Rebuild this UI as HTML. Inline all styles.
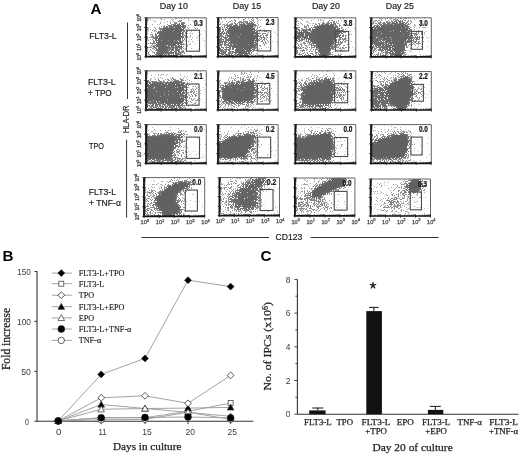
<!DOCTYPE html><html><head><meta charset="utf-8"><style>html,body{margin:0;padding:0;background:#fff;width:520px;height:454px;overflow:hidden}svg{display:block;will-change:transform}</style></head><body>
<svg width="520" height="454" viewBox="0 0 520 454">
<rect width="520" height="454" fill="#fff"/>
<defs>
<clipPath id="c00"><rect x="146.0" y="17.8" width="60.3" height="38.8"/></clipPath>
<filter id="f00" filterUnits="userSpaceOnUse" x="140.0" y="11.8" width="72.3" height="50.8" color-interpolation-filters="sRGB"><feGaussianBlur in="SourceAlpha" stdDeviation="2.0" result="d0"/><feComponentTransfer in="d0" result="d"><feFuncA type="table" tableValues="0 0.1 0.2 0.3 0.41 0.54 0.7 0.85 0.95 1 1"/></feComponentTransfer><feTurbulence type="fractalNoise" baseFrequency="1.3" numOctaves="1" seed="3" result="n"/><feComponentTransfer in="n" result="u"><feFuncR type="table" tableValues="0.000 0.000 0.000 0.000 0.000 0.000 0.000 0.001 0.002 0.005 0.009 0.017 0.030 0.049 0.079 0.119 0.173 0.240 0.319 0.407 0.500 0.593 0.681 0.760 0.827 0.881 0.921 0.951 0.970 0.983 0.991 0.995 0.998 0.999 1.000 1.000 1.000 1.000 1.000 1.000 1.000"/></feComponentTransfer><feColorMatrix in="u" type="matrix" values="0 0 0 0 0 0 0 0 0 0 0 0 0 0 0 1 0 0 0 0" result="ua"/><feComposite in="d" in2="ua" operator="arithmetic" k1="0" k2="1" k3="-1" k4="0.55" result="df"/><feComponentTransfer in="df" result="th"><feFuncA type="linear" slope="20" intercept="-10"/></feComponentTransfer><feComponentTransfer in="d" result="dd"><feFuncA type="linear" slope="0.44999999999999996" intercept="0.55"/></feComponentTransfer><feComposite in="th" in2="dd" operator="arithmetic" k1="1" k2="0" k3="0" k4="0" result="th2"/><feFlood flood-color="#616161"/><feComposite in2="th2" operator="in" result="col"/><feGaussianBlur in="col" stdDeviation="0.45"/></filter>
<clipPath id="c01"><rect x="218.0" y="17.6" width="60.1" height="39.0"/></clipPath>
<filter id="f01" filterUnits="userSpaceOnUse" x="212.0" y="11.6" width="72.1" height="51.0" color-interpolation-filters="sRGB"><feGaussianBlur in="SourceAlpha" stdDeviation="2.0" result="d0"/><feComponentTransfer in="d0" result="d"><feFuncA type="table" tableValues="0 0.1 0.2 0.3 0.41 0.54 0.7 0.85 0.95 1 1"/></feComponentTransfer><feTurbulence type="fractalNoise" baseFrequency="1.3" numOctaves="1" seed="4" result="n"/><feComponentTransfer in="n" result="u"><feFuncR type="table" tableValues="0.000 0.000 0.000 0.000 0.000 0.000 0.000 0.001 0.002 0.005 0.009 0.017 0.030 0.049 0.079 0.119 0.173 0.240 0.319 0.407 0.500 0.593 0.681 0.760 0.827 0.881 0.921 0.951 0.970 0.983 0.991 0.995 0.998 0.999 1.000 1.000 1.000 1.000 1.000 1.000 1.000"/></feComponentTransfer><feColorMatrix in="u" type="matrix" values="0 0 0 0 0 0 0 0 0 0 0 0 0 0 0 1 0 0 0 0" result="ua"/><feComposite in="d" in2="ua" operator="arithmetic" k1="0" k2="1" k3="-1" k4="0.55" result="df"/><feComponentTransfer in="df" result="th"><feFuncA type="linear" slope="20" intercept="-10"/></feComponentTransfer><feComponentTransfer in="d" result="dd"><feFuncA type="linear" slope="0.44999999999999996" intercept="0.55"/></feComponentTransfer><feComposite in="th" in2="dd" operator="arithmetic" k1="1" k2="0" k3="0" k4="0" result="th2"/><feFlood flood-color="#616161"/><feComposite in2="th2" operator="in" result="col"/><feGaussianBlur in="col" stdDeviation="0.45"/></filter>
<clipPath id="c02"><rect x="295.3" y="17.8" width="60.5" height="39.0"/></clipPath>
<filter id="f02" filterUnits="userSpaceOnUse" x="289.3" y="11.8" width="72.5" height="51.0" color-interpolation-filters="sRGB"><feGaussianBlur in="SourceAlpha" stdDeviation="2.0" result="d0"/><feComponentTransfer in="d0" result="d"><feFuncA type="table" tableValues="0 0.1 0.2 0.3 0.41 0.54 0.7 0.85 0.95 1 1"/></feComponentTransfer><feTurbulence type="fractalNoise" baseFrequency="1.3" numOctaves="1" seed="5" result="n"/><feComponentTransfer in="n" result="u"><feFuncR type="table" tableValues="0.000 0.000 0.000 0.000 0.000 0.000 0.000 0.001 0.002 0.005 0.009 0.017 0.030 0.049 0.079 0.119 0.173 0.240 0.319 0.407 0.500 0.593 0.681 0.760 0.827 0.881 0.921 0.951 0.970 0.983 0.991 0.995 0.998 0.999 1.000 1.000 1.000 1.000 1.000 1.000 1.000"/></feComponentTransfer><feColorMatrix in="u" type="matrix" values="0 0 0 0 0 0 0 0 0 0 0 0 0 0 0 1 0 0 0 0" result="ua"/><feComposite in="d" in2="ua" operator="arithmetic" k1="0" k2="1" k3="-1" k4="0.55" result="df"/><feComponentTransfer in="df" result="th"><feFuncA type="linear" slope="20" intercept="-10"/></feComponentTransfer><feComponentTransfer in="d" result="dd"><feFuncA type="linear" slope="0.44999999999999996" intercept="0.55"/></feComponentTransfer><feComposite in="th" in2="dd" operator="arithmetic" k1="1" k2="0" k3="0" k4="0" result="th2"/><feFlood flood-color="#616161"/><feComposite in2="th2" operator="in" result="col"/><feGaussianBlur in="col" stdDeviation="0.45"/></filter>
<clipPath id="c03"><rect x="371.0" y="17.8" width="60.3" height="39.0"/></clipPath>
<filter id="f03" filterUnits="userSpaceOnUse" x="365.0" y="11.8" width="72.3" height="51.0" color-interpolation-filters="sRGB"><feGaussianBlur in="SourceAlpha" stdDeviation="2.0" result="d0"/><feComponentTransfer in="d0" result="d"><feFuncA type="table" tableValues="0 0.1 0.2 0.3 0.41 0.54 0.7 0.85 0.95 1 1"/></feComponentTransfer><feTurbulence type="fractalNoise" baseFrequency="1.3" numOctaves="1" seed="6" result="n"/><feComponentTransfer in="n" result="u"><feFuncR type="table" tableValues="0.000 0.000 0.000 0.000 0.000 0.000 0.000 0.001 0.002 0.005 0.009 0.017 0.030 0.049 0.079 0.119 0.173 0.240 0.319 0.407 0.500 0.593 0.681 0.760 0.827 0.881 0.921 0.951 0.970 0.983 0.991 0.995 0.998 0.999 1.000 1.000 1.000 1.000 1.000 1.000 1.000"/></feComponentTransfer><feColorMatrix in="u" type="matrix" values="0 0 0 0 0 0 0 0 0 0 0 0 0 0 0 1 0 0 0 0" result="ua"/><feComposite in="d" in2="ua" operator="arithmetic" k1="0" k2="1" k3="-1" k4="0.55" result="df"/><feComponentTransfer in="df" result="th"><feFuncA type="linear" slope="20" intercept="-10"/></feComponentTransfer><feComponentTransfer in="d" result="dd"><feFuncA type="linear" slope="0.44999999999999996" intercept="0.55"/></feComponentTransfer><feComposite in="th" in2="dd" operator="arithmetic" k1="1" k2="0" k3="0" k4="0" result="th2"/><feFlood flood-color="#616161"/><feComposite in2="th2" operator="in" result="col"/><feGaussianBlur in="col" stdDeviation="0.45"/></filter>
</defs>
<clipPath id="c10"><rect x="146.0" y="70.8" width="60.3" height="39.2"/></clipPath>
<filter id="f10" filterUnits="userSpaceOnUse" x="140.0" y="64.8" width="72.3" height="51.2" color-interpolation-filters="sRGB"><feGaussianBlur in="SourceAlpha" stdDeviation="2.0" result="d0"/><feComponentTransfer in="d0" result="d"><feFuncA type="table" tableValues="0 0.1 0.2 0.3 0.41 0.54 0.7 0.85 0.95 1 1"/></feComponentTransfer><feTurbulence type="fractalNoise" baseFrequency="1.3" numOctaves="1" seed="7" result="n"/><feComponentTransfer in="n" result="u"><feFuncR type="table" tableValues="0.000 0.000 0.000 0.000 0.000 0.000 0.000 0.001 0.002 0.005 0.009 0.017 0.030 0.049 0.079 0.119 0.173 0.240 0.319 0.407 0.500 0.593 0.681 0.760 0.827 0.881 0.921 0.951 0.970 0.983 0.991 0.995 0.998 0.999 1.000 1.000 1.000 1.000 1.000 1.000 1.000"/></feComponentTransfer><feColorMatrix in="u" type="matrix" values="0 0 0 0 0 0 0 0 0 0 0 0 0 0 0 1 0 0 0 0" result="ua"/><feComposite in="d" in2="ua" operator="arithmetic" k1="0" k2="1" k3="-1" k4="0.55" result="df"/><feComponentTransfer in="df" result="th"><feFuncA type="linear" slope="20" intercept="-10"/></feComponentTransfer><feComponentTransfer in="d" result="dd"><feFuncA type="linear" slope="0.44999999999999996" intercept="0.55"/></feComponentTransfer><feComposite in="th" in2="dd" operator="arithmetic" k1="1" k2="0" k3="0" k4="0" result="th2"/><feFlood flood-color="#616161"/><feComposite in2="th2" operator="in" result="col"/><feGaussianBlur in="col" stdDeviation="0.45"/></filter>
<clipPath id="c11"><rect x="218.0" y="71.0" width="60.1" height="39.0"/></clipPath>
<filter id="f11" filterUnits="userSpaceOnUse" x="212.0" y="65.0" width="72.1" height="51.0" color-interpolation-filters="sRGB"><feGaussianBlur in="SourceAlpha" stdDeviation="2.0" result="d0"/><feComponentTransfer in="d0" result="d"><feFuncA type="table" tableValues="0 0.1 0.2 0.3 0.41 0.54 0.7 0.85 0.95 1 1"/></feComponentTransfer><feTurbulence type="fractalNoise" baseFrequency="1.3" numOctaves="1" seed="8" result="n"/><feComponentTransfer in="n" result="u"><feFuncR type="table" tableValues="0.000 0.000 0.000 0.000 0.000 0.000 0.000 0.001 0.002 0.005 0.009 0.017 0.030 0.049 0.079 0.119 0.173 0.240 0.319 0.407 0.500 0.593 0.681 0.760 0.827 0.881 0.921 0.951 0.970 0.983 0.991 0.995 0.998 0.999 1.000 1.000 1.000 1.000 1.000 1.000 1.000"/></feComponentTransfer><feColorMatrix in="u" type="matrix" values="0 0 0 0 0 0 0 0 0 0 0 0 0 0 0 1 0 0 0 0" result="ua"/><feComposite in="d" in2="ua" operator="arithmetic" k1="0" k2="1" k3="-1" k4="0.55" result="df"/><feComponentTransfer in="df" result="th"><feFuncA type="linear" slope="20" intercept="-10"/></feComponentTransfer><feComponentTransfer in="d" result="dd"><feFuncA type="linear" slope="0.44999999999999996" intercept="0.55"/></feComponentTransfer><feComposite in="th" in2="dd" operator="arithmetic" k1="1" k2="0" k3="0" k4="0" result="th2"/><feFlood flood-color="#616161"/><feComposite in2="th2" operator="in" result="col"/><feGaussianBlur in="col" stdDeviation="0.45"/></filter>
<clipPath id="c12"><rect x="295.3" y="70.8" width="60.5" height="39.2"/></clipPath>
<filter id="f12" filterUnits="userSpaceOnUse" x="289.3" y="64.8" width="72.5" height="51.2" color-interpolation-filters="sRGB"><feGaussianBlur in="SourceAlpha" stdDeviation="2.0" result="d0"/><feComponentTransfer in="d0" result="d"><feFuncA type="table" tableValues="0 0.1 0.2 0.3 0.41 0.54 0.7 0.85 0.95 1 1"/></feComponentTransfer><feTurbulence type="fractalNoise" baseFrequency="1.3" numOctaves="1" seed="9" result="n"/><feComponentTransfer in="n" result="u"><feFuncR type="table" tableValues="0.000 0.000 0.000 0.000 0.000 0.000 0.000 0.001 0.002 0.005 0.009 0.017 0.030 0.049 0.079 0.119 0.173 0.240 0.319 0.407 0.500 0.593 0.681 0.760 0.827 0.881 0.921 0.951 0.970 0.983 0.991 0.995 0.998 0.999 1.000 1.000 1.000 1.000 1.000 1.000 1.000"/></feComponentTransfer><feColorMatrix in="u" type="matrix" values="0 0 0 0 0 0 0 0 0 0 0 0 0 0 0 1 0 0 0 0" result="ua"/><feComposite in="d" in2="ua" operator="arithmetic" k1="0" k2="1" k3="-1" k4="0.55" result="df"/><feComponentTransfer in="df" result="th"><feFuncA type="linear" slope="20" intercept="-10"/></feComponentTransfer><feComponentTransfer in="d" result="dd"><feFuncA type="linear" slope="0.44999999999999996" intercept="0.55"/></feComponentTransfer><feComposite in="th" in2="dd" operator="arithmetic" k1="1" k2="0" k3="0" k4="0" result="th2"/><feFlood flood-color="#616161"/><feComposite in2="th2" operator="in" result="col"/><feGaussianBlur in="col" stdDeviation="0.45"/></filter>
<clipPath id="c13"><rect x="371.5" y="71.5" width="59.8" height="38.5"/></clipPath>
<filter id="f13" filterUnits="userSpaceOnUse" x="365.5" y="65.5" width="71.8" height="50.5" color-interpolation-filters="sRGB"><feGaussianBlur in="SourceAlpha" stdDeviation="2.0" result="d0"/><feComponentTransfer in="d0" result="d"><feFuncA type="table" tableValues="0 0.1 0.2 0.3 0.41 0.54 0.7 0.85 0.95 1 1"/></feComponentTransfer><feTurbulence type="fractalNoise" baseFrequency="1.3" numOctaves="1" seed="10" result="n"/><feComponentTransfer in="n" result="u"><feFuncR type="table" tableValues="0.000 0.000 0.000 0.000 0.000 0.000 0.000 0.001 0.002 0.005 0.009 0.017 0.030 0.049 0.079 0.119 0.173 0.240 0.319 0.407 0.500 0.593 0.681 0.760 0.827 0.881 0.921 0.951 0.970 0.983 0.991 0.995 0.998 0.999 1.000 1.000 1.000 1.000 1.000 1.000 1.000"/></feComponentTransfer><feColorMatrix in="u" type="matrix" values="0 0 0 0 0 0 0 0 0 0 0 0 0 0 0 1 0 0 0 0" result="ua"/><feComposite in="d" in2="ua" operator="arithmetic" k1="0" k2="1" k3="-1" k4="0.55" result="df"/><feComponentTransfer in="df" result="th"><feFuncA type="linear" slope="20" intercept="-10"/></feComponentTransfer><feComponentTransfer in="d" result="dd"><feFuncA type="linear" slope="0.44999999999999996" intercept="0.55"/></feComponentTransfer><feComposite in="th" in2="dd" operator="arithmetic" k1="1" k2="0" k3="0" k4="0" result="th2"/><feFlood flood-color="#616161"/><feComposite in2="th2" operator="in" result="col"/><feGaussianBlur in="col" stdDeviation="0.45"/></filter>
</defs>
<clipPath id="c20"><rect x="146.0" y="124.6" width="60.3" height="38.7"/></clipPath>
<filter id="f20" filterUnits="userSpaceOnUse" x="140.0" y="118.6" width="72.3" height="50.7" color-interpolation-filters="sRGB"><feGaussianBlur in="SourceAlpha" stdDeviation="2.0" result="d0"/><feComponentTransfer in="d0" result="d"><feFuncA type="table" tableValues="0 0.1 0.2 0.3 0.41 0.54 0.7 0.85 0.95 1 1"/></feComponentTransfer><feTurbulence type="fractalNoise" baseFrequency="1.3" numOctaves="1" seed="11" result="n"/><feComponentTransfer in="n" result="u"><feFuncR type="table" tableValues="0.000 0.000 0.000 0.000 0.000 0.000 0.000 0.001 0.002 0.005 0.009 0.017 0.030 0.049 0.079 0.119 0.173 0.240 0.319 0.407 0.500 0.593 0.681 0.760 0.827 0.881 0.921 0.951 0.970 0.983 0.991 0.995 0.998 0.999 1.000 1.000 1.000 1.000 1.000 1.000 1.000"/></feComponentTransfer><feColorMatrix in="u" type="matrix" values="0 0 0 0 0 0 0 0 0 0 0 0 0 0 0 1 0 0 0 0" result="ua"/><feComposite in="d" in2="ua" operator="arithmetic" k1="0" k2="1" k3="-1" k4="0.55" result="df"/><feComponentTransfer in="df" result="th"><feFuncA type="linear" slope="20" intercept="-10"/></feComponentTransfer><feComponentTransfer in="d" result="dd"><feFuncA type="linear" slope="0.44999999999999996" intercept="0.55"/></feComponentTransfer><feComposite in="th" in2="dd" operator="arithmetic" k1="1" k2="0" k3="0" k4="0" result="th2"/><feFlood flood-color="#616161"/><feComposite in2="th2" operator="in" result="col"/><feGaussianBlur in="col" stdDeviation="0.45"/></filter>
<clipPath id="c21"><rect x="218.0" y="124.6" width="60.1" height="38.7"/></clipPath>
<filter id="f21" filterUnits="userSpaceOnUse" x="212.0" y="118.6" width="72.1" height="50.7" color-interpolation-filters="sRGB"><feGaussianBlur in="SourceAlpha" stdDeviation="2.0" result="d0"/><feComponentTransfer in="d0" result="d"><feFuncA type="table" tableValues="0 0.1 0.2 0.3 0.41 0.54 0.7 0.85 0.95 1 1"/></feComponentTransfer><feTurbulence type="fractalNoise" baseFrequency="1.3" numOctaves="1" seed="12" result="n"/><feComponentTransfer in="n" result="u"><feFuncR type="table" tableValues="0.000 0.000 0.000 0.000 0.000 0.000 0.000 0.001 0.002 0.005 0.009 0.017 0.030 0.049 0.079 0.119 0.173 0.240 0.319 0.407 0.500 0.593 0.681 0.760 0.827 0.881 0.921 0.951 0.970 0.983 0.991 0.995 0.998 0.999 1.000 1.000 1.000 1.000 1.000 1.000 1.000"/></feComponentTransfer><feColorMatrix in="u" type="matrix" values="0 0 0 0 0 0 0 0 0 0 0 0 0 0 0 1 0 0 0 0" result="ua"/><feComposite in="d" in2="ua" operator="arithmetic" k1="0" k2="1" k3="-1" k4="0.55" result="df"/><feComponentTransfer in="df" result="th"><feFuncA type="linear" slope="20" intercept="-10"/></feComponentTransfer><feComponentTransfer in="d" result="dd"><feFuncA type="linear" slope="0.44999999999999996" intercept="0.55"/></feComponentTransfer><feComposite in="th" in2="dd" operator="arithmetic" k1="1" k2="0" k3="0" k4="0" result="th2"/><feFlood flood-color="#616161"/><feComposite in2="th2" operator="in" result="col"/><feGaussianBlur in="col" stdDeviation="0.45"/></filter>
<clipPath id="c22"><rect x="295.3" y="124.6" width="60.5" height="38.7"/></clipPath>
<filter id="f22" filterUnits="userSpaceOnUse" x="289.3" y="118.6" width="72.5" height="50.7" color-interpolation-filters="sRGB"><feGaussianBlur in="SourceAlpha" stdDeviation="2.0" result="d0"/><feComponentTransfer in="d0" result="d"><feFuncA type="table" tableValues="0 0.1 0.2 0.3 0.41 0.54 0.7 0.85 0.95 1 1"/></feComponentTransfer><feTurbulence type="fractalNoise" baseFrequency="1.3" numOctaves="1" seed="13" result="n"/><feComponentTransfer in="n" result="u"><feFuncR type="table" tableValues="0.000 0.000 0.000 0.000 0.000 0.000 0.000 0.001 0.002 0.005 0.009 0.017 0.030 0.049 0.079 0.119 0.173 0.240 0.319 0.407 0.500 0.593 0.681 0.760 0.827 0.881 0.921 0.951 0.970 0.983 0.991 0.995 0.998 0.999 1.000 1.000 1.000 1.000 1.000 1.000 1.000"/></feComponentTransfer><feColorMatrix in="u" type="matrix" values="0 0 0 0 0 0 0 0 0 0 0 0 0 0 0 1 0 0 0 0" result="ua"/><feComposite in="d" in2="ua" operator="arithmetic" k1="0" k2="1" k3="-1" k4="0.55" result="df"/><feComponentTransfer in="df" result="th"><feFuncA type="linear" slope="20" intercept="-10"/></feComponentTransfer><feComponentTransfer in="d" result="dd"><feFuncA type="linear" slope="0.44999999999999996" intercept="0.55"/></feComponentTransfer><feComposite in="th" in2="dd" operator="arithmetic" k1="1" k2="0" k3="0" k4="0" result="th2"/><feFlood flood-color="#616161"/><feComposite in2="th2" operator="in" result="col"/><feGaussianBlur in="col" stdDeviation="0.45"/></filter>
<clipPath id="c23"><rect x="371.0" y="124.6" width="60.3" height="38.7"/></clipPath>
<filter id="f23" filterUnits="userSpaceOnUse" x="365.0" y="118.6" width="72.3" height="50.7" color-interpolation-filters="sRGB"><feGaussianBlur in="SourceAlpha" stdDeviation="2.0" result="d0"/><feComponentTransfer in="d0" result="d"><feFuncA type="table" tableValues="0 0.1 0.2 0.3 0.41 0.54 0.7 0.85 0.95 1 1"/></feComponentTransfer><feTurbulence type="fractalNoise" baseFrequency="1.3" numOctaves="1" seed="14" result="n"/><feComponentTransfer in="n" result="u"><feFuncR type="table" tableValues="0.000 0.000 0.000 0.000 0.000 0.000 0.000 0.001 0.002 0.005 0.009 0.017 0.030 0.049 0.079 0.119 0.173 0.240 0.319 0.407 0.500 0.593 0.681 0.760 0.827 0.881 0.921 0.951 0.970 0.983 0.991 0.995 0.998 0.999 1.000 1.000 1.000 1.000 1.000 1.000 1.000"/></feComponentTransfer><feColorMatrix in="u" type="matrix" values="0 0 0 0 0 0 0 0 0 0 0 0 0 0 0 1 0 0 0 0" result="ua"/><feComposite in="d" in2="ua" operator="arithmetic" k1="0" k2="1" k3="-1" k4="0.55" result="df"/><feComponentTransfer in="df" result="th"><feFuncA type="linear" slope="20" intercept="-10"/></feComponentTransfer><feComponentTransfer in="d" result="dd"><feFuncA type="linear" slope="0.44999999999999996" intercept="0.55"/></feComponentTransfer><feComposite in="th" in2="dd" operator="arithmetic" k1="1" k2="0" k3="0" k4="0" result="th2"/><feFlood flood-color="#616161"/><feComposite in2="th2" operator="in" result="col"/><feGaussianBlur in="col" stdDeviation="0.45"/></filter>
</defs>
<clipPath id="c30"><rect x="144.0" y="177.6" width="60.7" height="38.8"/></clipPath>
<filter id="f30" filterUnits="userSpaceOnUse" x="138.0" y="171.6" width="72.7" height="50.8" color-interpolation-filters="sRGB"><feGaussianBlur in="SourceAlpha" stdDeviation="2.0" result="d0"/><feComponentTransfer in="d0" result="d"><feFuncA type="table" tableValues="0 0.1 0.2 0.3 0.41 0.54 0.7 0.85 0.95 1 1"/></feComponentTransfer><feTurbulence type="fractalNoise" baseFrequency="1.3" numOctaves="1" seed="15" result="n"/><feComponentTransfer in="n" result="u"><feFuncR type="table" tableValues="0.000 0.000 0.000 0.000 0.000 0.000 0.000 0.001 0.002 0.005 0.009 0.017 0.030 0.049 0.079 0.119 0.173 0.240 0.319 0.407 0.500 0.593 0.681 0.760 0.827 0.881 0.921 0.951 0.970 0.983 0.991 0.995 0.998 0.999 1.000 1.000 1.000 1.000 1.000 1.000 1.000"/></feComponentTransfer><feColorMatrix in="u" type="matrix" values="0 0 0 0 0 0 0 0 0 0 0 0 0 0 0 1 0 0 0 0" result="ua"/><feComposite in="d" in2="ua" operator="arithmetic" k1="0" k2="1" k3="-1" k4="0.55" result="df"/><feComponentTransfer in="df" result="th"><feFuncA type="linear" slope="20" intercept="-10"/></feComponentTransfer><feComponentTransfer in="d" result="dd"><feFuncA type="linear" slope="0.44999999999999996" intercept="0.55"/></feComponentTransfer><feComposite in="th" in2="dd" operator="arithmetic" k1="1" k2="0" k3="0" k4="0" result="th2"/><feFlood flood-color="#616161"/><feComposite in2="th2" operator="in" result="col"/><feGaussianBlur in="col" stdDeviation="0.45"/></filter>
<clipPath id="c31"><rect x="219.4" y="177.6" width="60.1" height="38.0"/></clipPath>
<filter id="f31" filterUnits="userSpaceOnUse" x="213.4" y="171.6" width="72.1" height="50.0" color-interpolation-filters="sRGB"><feGaussianBlur in="SourceAlpha" stdDeviation="2.0" result="d0"/><feComponentTransfer in="d0" result="d"><feFuncA type="table" tableValues="0 0.1 0.2 0.3 0.41 0.54 0.7 0.85 0.95 1 1"/></feComponentTransfer><feTurbulence type="fractalNoise" baseFrequency="1.3" numOctaves="1" seed="16" result="n"/><feComponentTransfer in="n" result="u"><feFuncR type="table" tableValues="0.000 0.000 0.000 0.000 0.000 0.000 0.000 0.001 0.002 0.005 0.009 0.017 0.030 0.049 0.079 0.119 0.173 0.240 0.319 0.407 0.500 0.593 0.681 0.760 0.827 0.881 0.921 0.951 0.970 0.983 0.991 0.995 0.998 0.999 1.000 1.000 1.000 1.000 1.000 1.000 1.000"/></feComponentTransfer><feColorMatrix in="u" type="matrix" values="0 0 0 0 0 0 0 0 0 0 0 0 0 0 0 1 0 0 0 0" result="ua"/><feComposite in="d" in2="ua" operator="arithmetic" k1="0" k2="1" k3="-1" k4="0.55" result="df"/><feComponentTransfer in="df" result="th"><feFuncA type="linear" slope="20" intercept="-10"/></feComponentTransfer><feComponentTransfer in="d" result="dd"><feFuncA type="linear" slope="0.44999999999999996" intercept="0.55"/></feComponentTransfer><feComposite in="th" in2="dd" operator="arithmetic" k1="1" k2="0" k3="0" k4="0" result="th2"/><feFlood flood-color="#616161"/><feComposite in2="th2" operator="in" result="col"/><feGaussianBlur in="col" stdDeviation="0.45"/></filter>
<clipPath id="c32"><rect x="294.9" y="178.0" width="60.0" height="37.8"/></clipPath>
<filter id="f32" filterUnits="userSpaceOnUse" x="288.9" y="172.0" width="72.0" height="49.8" color-interpolation-filters="sRGB"><feGaussianBlur in="SourceAlpha" stdDeviation="2.0" result="d0"/><feComponentTransfer in="d0" result="d"><feFuncA type="table" tableValues="0 0.1 0.2 0.3 0.41 0.54 0.7 0.85 0.95 1 1"/></feComponentTransfer><feTurbulence type="fractalNoise" baseFrequency="1.3" numOctaves="1" seed="17" result="n"/><feComponentTransfer in="n" result="u"><feFuncR type="table" tableValues="0.000 0.000 0.000 0.000 0.000 0.000 0.000 0.001 0.002 0.005 0.009 0.017 0.030 0.049 0.079 0.119 0.173 0.240 0.319 0.407 0.500 0.593 0.681 0.760 0.827 0.881 0.921 0.951 0.970 0.983 0.991 0.995 0.998 0.999 1.000 1.000 1.000 1.000 1.000 1.000 1.000"/></feComponentTransfer><feColorMatrix in="u" type="matrix" values="0 0 0 0 0 0 0 0 0 0 0 0 0 0 0 1 0 0 0 0" result="ua"/><feComposite in="d" in2="ua" operator="arithmetic" k1="0" k2="1" k3="-1" k4="0.55" result="df"/><feComponentTransfer in="df" result="th"><feFuncA type="linear" slope="20" intercept="-10"/></feComponentTransfer><feComponentTransfer in="d" result="dd"><feFuncA type="linear" slope="0.44999999999999996" intercept="0.55"/></feComponentTransfer><feComposite in="th" in2="dd" operator="arithmetic" k1="1" k2="0" k3="0" k4="0" result="th2"/><feFlood flood-color="#616161"/><feComposite in2="th2" operator="in" result="col"/><feGaussianBlur in="col" stdDeviation="0.45"/></filter>
<clipPath id="c33"><rect x="370.5" y="179.0" width="60.0" height="37.0"/></clipPath>
<filter id="f33" filterUnits="userSpaceOnUse" x="364.5" y="173.0" width="72.0" height="49.0" color-interpolation-filters="sRGB"><feGaussianBlur in="SourceAlpha" stdDeviation="2.0" result="d0"/><feComponentTransfer in="d0" result="d"><feFuncA type="table" tableValues="0 0.1 0.2 0.3 0.41 0.54 0.7 0.85 0.95 1 1"/></feComponentTransfer><feTurbulence type="fractalNoise" baseFrequency="1.3" numOctaves="1" seed="18" result="n"/><feComponentTransfer in="n" result="u"><feFuncR type="table" tableValues="0.000 0.000 0.000 0.000 0.000 0.000 0.000 0.001 0.002 0.005 0.009 0.017 0.030 0.049 0.079 0.119 0.173 0.240 0.319 0.407 0.500 0.593 0.681 0.760 0.827 0.881 0.921 0.951 0.970 0.983 0.991 0.995 0.998 0.999 1.000 1.000 1.000 1.000 1.000 1.000 1.000"/></feComponentTransfer><feColorMatrix in="u" type="matrix" values="0 0 0 0 0 0 0 0 0 0 0 0 0 0 0 1 0 0 0 0" result="ua"/><feComposite in="d" in2="ua" operator="arithmetic" k1="0" k2="1" k3="-1" k4="0.55" result="df"/><feComponentTransfer in="df" result="th"><feFuncA type="linear" slope="20" intercept="-10"/></feComponentTransfer><feComponentTransfer in="d" result="dd"><feFuncA type="linear" slope="0.44999999999999996" intercept="0.55"/></feComponentTransfer><feComposite in="th" in2="dd" operator="arithmetic" k1="1" k2="0" k3="0" k4="0" result="th2"/><feFlood flood-color="#616161"/><feComposite in2="th2" operator="in" result="col"/><feGaussianBlur in="col" stdDeviation="0.45"/></filter>
</defs>
<g clip-path="url(#c00)"><g filter="url(#f00)">
<rect x="140" y="11.8" width="72.30000000000001" height="50.8" fill="#000" fill-opacity="0.0"/>
<polygon points="142.0,13.8 188.0,13.8 200.0,29.0 186.0,52.0 180.0,60.6 142.0,60.6" fill="#000" fill-opacity="0.07"/>
<polygon points="188.0,32.0 196.0,32.0 196.0,40.0 188.0,40.0" fill="#000" fill-opacity="0.12"/>
<polygon points="151.0,33.0 160.0,28.0 168.0,25.0 166.0,60.6 156.0,60.6 150.0,46.0" fill="#000" fill-opacity="0.5"/>
<polygon points="160.0,30.0 168.0,25.5 176.0,22.5 186.0,21.3 186.8,26.0 185.5,34.0 183.5,42.0 183.5,50.0 182.0,60.6 160.0,60.6 157.0,46.0 157.0,38.0" fill="#000" fill-opacity="0.64"/>
<polygon points="166.0,26.0 176.0,23.5 184.0,23.0 183.0,33.0 181.0,43.7 170.0,45.0 164.0,38.0" fill="#000" fill-opacity="0.5"/>
</g></g>
<path d="M146.0,56.6V17.8H206.3V56.6" fill="none" stroke="#666" stroke-width="1"/>
<path d="M146.0,18.3V56.6H206.3" fill="none" stroke="#111" stroke-width="1.7"/>
<path d="M144.2,56.6h3.4M146.0,55.0v3.3M146.0,53.7h1.4M150.5,56.6v-1.4M146.0,52.0h1.4M153.2,56.6v-1.4M146.0,50.8h1.4M155.1,56.6v-1.4M146.0,49.8h1.4M156.5,56.6v-1.4M146.0,49.1h1.4M157.7,56.6v-1.4M146.0,48.4h1.4M158.7,56.6v-1.4M146.0,47.8h1.4M159.6,56.6v-1.4M146.0,47.3h1.4M160.4,56.6v-1.4M144.2,46.9h3.4M161.1,55.0v3.3M146.0,44.0h1.4M165.6,56.6v-1.4M146.0,42.3h1.4M168.3,56.6v-1.4M146.0,41.1h1.4M170.2,56.6v-1.4M146.0,40.1h1.4M171.6,56.6v-1.4M146.0,39.4h1.4M172.8,56.6v-1.4M146.0,38.7h1.4M173.8,56.6v-1.4M146.0,38.1h1.4M174.7,56.6v-1.4M146.0,37.6h1.4M175.5,56.6v-1.4M144.2,37.2h3.4M176.2,55.0v3.3M146.0,34.3h1.4M180.7,56.6v-1.4M146.0,32.6h1.4M183.3,56.6v-1.4M146.0,31.4h1.4M185.2,56.6v-1.4M146.0,30.4h1.4M186.7,56.6v-1.4M146.0,29.7h1.4M187.9,56.6v-1.4M146.0,29.0h1.4M188.9,56.6v-1.4M146.0,28.4h1.4M189.8,56.6v-1.4M146.0,27.9h1.4M190.5,56.6v-1.4M144.2,27.5h3.4M191.2,55.0v3.3M146.0,24.6h1.4M195.8,56.6v-1.4M146.0,22.9h1.4M198.4,56.6v-1.4M146.0,21.7h1.4M200.3,56.6v-1.4M146.0,20.7h1.4M201.8,56.6v-1.4M146.0,20.0h1.4M203.0,56.6v-1.4M146.0,19.3h1.4M204.0,56.6v-1.4M146.0,18.7h1.4M204.8,56.6v-1.4M146.0,18.2h1.4M205.6,56.6v-1.4M144.2,17.8h3.4M206.3,55.0v3.3" stroke="#222" stroke-width="0.8" fill="none"/>
<text transform="translate(140.6,60.4) rotate(-90)" font-family='"Liberation Sans", sans-serif' font-size="4.9" fill="#444" stroke="#444" stroke-width="0.3">10<tspan dy="-1.9" font-size="3.6">0</tspan></text>
<text transform="translate(140.6,50.7) rotate(-90)" font-family='"Liberation Sans", sans-serif' font-size="4.9" fill="#444" stroke="#444" stroke-width="0.3">10<tspan dy="-1.9" font-size="3.6">1</tspan></text>
<text transform="translate(140.6,41.0) rotate(-90)" font-family='"Liberation Sans", sans-serif' font-size="4.9" fill="#444" stroke="#444" stroke-width="0.3">10<tspan dy="-1.9" font-size="3.6">2</tspan></text>
<text transform="translate(140.6,31.3) rotate(-90)" font-family='"Liberation Sans", sans-serif' font-size="4.9" fill="#444" stroke="#444" stroke-width="0.3">10<tspan dy="-1.9" font-size="3.6">3</tspan></text>
<text transform="translate(140.6,21.6) rotate(-90)" font-family='"Liberation Sans", sans-serif' font-size="4.9" fill="#444" stroke="#444" stroke-width="0.3">10<tspan dy="-1.9" font-size="3.6">4</tspan></text>
<rect x="186.4" y="30.2" width="13.1" height="21.0" fill="none" stroke="#4a4a4a" stroke-width="1.1"/>
<text x="202.9" y="25.6" text-anchor="end" font-family='"Liberation Sans", sans-serif' font-weight="bold" font-size="8.5" fill="#111" stroke="#111" stroke-width="0.2" textLength="9" lengthAdjust="spacingAndGlyphs">0.3</text>
<g clip-path="url(#c01)"><g filter="url(#f01)">
<rect x="212" y="11.600000000000001" width="72.10000000000002" height="51.0" fill="#000" fill-opacity="0.0"/>
<polygon points="214.0,13.6 260.0,13.6 272.0,28.0 256.0,60.6 214.0,60.6" fill="#000" fill-opacity="0.08"/>
<polygon points="225.0,22.0 241.0,13.6 257.2,13.6 258.5,24.5 237.2,24.0 225.0,26.0" fill="#000" fill-opacity="0.15"/>
<polygon points="214.0,28.0 230.0,24.0 237.0,23.0 235.0,35.0 237.0,46.0 241.0,60.6 214.0,60.6" fill="#000" fill-opacity="0.55"/>
<polygon points="258.5,32.0 268.5,32.0 268.5,44.5 258.5,44.5" fill="#000" fill-opacity="0.4"/>
<polygon points="254.0,30.0 258.0,30.0 258.0,50.0 253.0,50.0" fill="#000" fill-opacity="0.45"/>
<polygon points="229.0,27.0 237.0,23.5 246.0,22.0 255.0,21.5 256.5,24.5 256.5,36.0 255.0,46.0 253.0,53.0 248.0,60.6 240.0,60.6 234.0,47.0 230.0,38.0" fill="#000" fill-opacity="0.7"/>
<polygon points="236.0,28.0 246.0,24.0 254.5,24.0 254.5,45.0 250.0,50.0 242.0,50.0 237.0,40.0" fill="#000" fill-opacity="0.45"/>
</g></g>
<path d="M218.0,56.6V17.6H278.1V56.6" fill="none" stroke="#666" stroke-width="1"/>
<path d="M218.0,18.1V56.6H278.1" fill="none" stroke="#111" stroke-width="1.7"/>
<path d="M216.2,56.6h3.4M218.0,55.0v3.3M218.0,53.7h1.4M222.5,56.6v-1.4M218.0,51.9h1.4M225.2,56.6v-1.4M218.0,50.7h1.4M227.0,56.6v-1.4M218.0,49.8h1.4M228.5,56.6v-1.4M218.0,49.0h1.4M229.7,56.6v-1.4M218.0,48.4h1.4M230.7,56.6v-1.4M218.0,47.8h1.4M231.6,56.6v-1.4M218.0,47.3h1.4M232.3,56.6v-1.4M216.2,46.9h3.4M233.0,55.0v3.3M218.0,43.9h1.4M237.5,56.6v-1.4M218.0,42.2h1.4M240.2,56.6v-1.4M218.0,41.0h1.4M242.1,56.6v-1.4M218.0,40.0h1.4M243.5,56.6v-1.4M218.0,39.3h1.4M244.7,56.6v-1.4M218.0,38.6h1.4M245.7,56.6v-1.4M218.0,38.0h1.4M246.6,56.6v-1.4M218.0,37.5h1.4M247.4,56.6v-1.4M216.2,37.1h3.4M248.1,55.0v3.3M218.0,34.2h1.4M252.6,56.6v-1.4M218.0,32.4h1.4M255.2,56.6v-1.4M218.0,31.2h1.4M257.1,56.6v-1.4M218.0,30.3h1.4M258.6,56.6v-1.4M218.0,29.5h1.4M259.7,56.6v-1.4M218.0,28.9h1.4M260.7,56.6v-1.4M218.0,28.3h1.4M261.6,56.6v-1.4M218.0,27.8h1.4M262.4,56.6v-1.4M216.2,27.4h3.4M263.1,55.0v3.3M218.0,24.4h1.4M267.6,56.6v-1.4M218.0,22.7h1.4M270.2,56.6v-1.4M218.0,21.5h1.4M272.1,56.6v-1.4M218.0,20.5h1.4M273.6,56.6v-1.4M218.0,19.8h1.4M274.8,56.6v-1.4M218.0,19.1h1.4M275.8,56.6v-1.4M218.0,18.5h1.4M276.6,56.6v-1.4M218.0,18.0h1.4M277.4,56.6v-1.4M216.2,17.6h3.4M278.1,55.0v3.3" stroke="#222" stroke-width="0.8" fill="none"/>
<rect x="257.25" y="30.75" width="13.4" height="20.2" fill="none" stroke="#4a4a4a" stroke-width="1.1"/>
<text x="274.7" y="25.4" text-anchor="end" font-family='"Liberation Sans", sans-serif' font-weight="bold" font-size="8.5" fill="#111" stroke="#111" stroke-width="0.2" textLength="9" lengthAdjust="spacingAndGlyphs">2.3</text>
<g clip-path="url(#c02)"><g filter="url(#f02)">
<rect x="289.3" y="11.8" width="72.5" height="51.0" fill="#000" fill-opacity="0.0"/>
<polygon points="291.3,21.0 340.0,13.8 352.0,28.0 340.0,60.8 291.3,60.8" fill="#000" fill-opacity="0.12"/>
<polygon points="291.3,41.0 313.0,44.0 320.0,60.8 291.3,60.8" fill="#000" fill-opacity="0.3"/>
<polygon points="335.9,32.0 346.5,32.0 346.5,48.2 335.9,48.2" fill="#000" fill-opacity="0.45"/>
<polygon points="291.3,29.3 306.5,28.5 316.5,26.0 328.0,22.5 336.0,23.0 340.0,28.0 344.0,33.0 336.5,37.0 334.0,45.8 326.5,60.8 319.0,53.2 313.0,44.0 305.0,41.0 291.3,41.0" fill="#000" fill-opacity="0.72"/>
<polygon points="316.5,25.8 322.8,23.9 329.0,24.5 334.0,28.2 334.0,38.2 331.5,47.0 326.5,60.8 321.5,60.8 317.8,47.0 314.0,39.5 312.8,30.8" fill="#000" fill-opacity="1.0"/>
</g></g>
<path d="M295.3,56.8V17.8H355.8V56.8" fill="none" stroke="#666" stroke-width="1"/>
<path d="M295.3,18.3V56.8H355.8" fill="none" stroke="#111" stroke-width="1.7"/>
<path d="M293.5,56.8h3.4M295.3,55.2v3.3M295.3,53.9h1.4M299.9,56.8v-1.4M295.3,52.1h1.4M302.5,56.8v-1.4M295.3,50.9h1.4M304.4,56.8v-1.4M295.3,50.0h1.4M305.9,56.8v-1.4M295.3,49.2h1.4M307.1,56.8v-1.4M295.3,48.6h1.4M308.1,56.8v-1.4M295.3,48.0h1.4M309.0,56.8v-1.4M295.3,47.5h1.4M309.7,56.8v-1.4M293.5,47.0h3.4M310.4,55.2v3.3M295.3,44.1h1.4M315.0,56.8v-1.4M295.3,42.4h1.4M317.6,56.8v-1.4M295.3,41.2h1.4M319.5,56.8v-1.4M295.3,40.2h1.4M321.0,56.8v-1.4M295.3,39.5h1.4M322.2,56.8v-1.4M295.3,38.8h1.4M323.2,56.8v-1.4M295.3,38.2h1.4M324.1,56.8v-1.4M295.3,37.7h1.4M324.9,56.8v-1.4M293.5,37.3h3.4M325.6,55.2v3.3M295.3,34.4h1.4M330.1,56.8v-1.4M295.3,32.6h1.4M332.8,56.8v-1.4M295.3,31.4h1.4M334.7,56.8v-1.4M295.3,30.5h1.4M336.1,56.8v-1.4M295.3,29.7h1.4M337.3,56.8v-1.4M295.3,29.1h1.4M338.3,56.8v-1.4M295.3,28.5h1.4M339.2,56.8v-1.4M295.3,28.0h1.4M340.0,56.8v-1.4M293.5,27.5h3.4M340.7,55.2v3.3M295.3,24.6h1.4M345.2,56.8v-1.4M295.3,22.9h1.4M347.9,56.8v-1.4M295.3,21.7h1.4M349.8,56.8v-1.4M295.3,20.7h1.4M351.2,56.8v-1.4M295.3,20.0h1.4M352.4,56.8v-1.4M295.3,19.3h1.4M353.5,56.8v-1.4M295.3,18.7h1.4M354.3,56.8v-1.4M295.3,18.2h1.4M355.1,56.8v-1.4M293.5,17.8h3.4M355.8,55.2v3.3" stroke="#222" stroke-width="0.8" fill="none"/>
<rect x="335.25" y="31.4" width="13.4" height="19.6" fill="none" stroke="#4a4a4a" stroke-width="1.1"/>
<text x="352.4" y="25.6" text-anchor="end" font-family='"Liberation Sans", sans-serif' font-weight="bold" font-size="8.5" fill="#111" stroke="#111" stroke-width="0.2" textLength="9" lengthAdjust="spacingAndGlyphs">3.8</text>
<g clip-path="url(#c03)"><g filter="url(#f03)">
<rect x="365" y="11.8" width="72.30000000000001" height="51.0" fill="#000" fill-opacity="0.0"/>
<polygon points="367.0,13.8 412.0,13.8 425.0,30.0 405.0,60.8 367.0,60.8" fill="#000" fill-opacity="0.1"/>
<polygon points="367.0,22.0 387.0,13.8 410.0,13.8 411.0,24.5 367.0,27.0" fill="#000" fill-opacity="0.2"/>
<polygon points="367.0,38.0 390.0,44.0 398.0,60.8 367.0,60.8" fill="#000" fill-opacity="0.25"/>
<polygon points="412.5,32.0 421.5,32.0 421.5,45.0 412.5,45.0" fill="#000" fill-opacity="0.55"/>
<polygon points="409.0,28.0 412.0,28.0 412.0,45.0 408.0,45.0" fill="#000" fill-opacity="0.5"/>
<polygon points="367.0,35.8 381.5,39.5 391.5,44.5 397.8,60.8 385.0,52.0 367.0,44.0" fill="#000" fill-opacity="0.6"/>
<polygon points="367.0,27.0 384.0,23.9 394.0,21.4 402.8,20.8 409.0,24.5 410.2,30.8 409.0,39.5 406.5,47.0 402.8,60.8 397.8,60.8 391.5,44.5 381.5,39.5 367.0,35.8" fill="#000" fill-opacity="0.8"/>
</g></g>
<path d="M371.0,56.8V17.8H431.3V56.8" fill="none" stroke="#666" stroke-width="1"/>
<path d="M371.0,18.3V56.8H431.3" fill="none" stroke="#111" stroke-width="1.7"/>
<path d="M369.2,56.8h3.4M371.0,55.2v3.3M371.0,53.9h1.4M375.5,56.8v-1.4M371.0,52.1h1.4M378.2,56.8v-1.4M371.0,50.9h1.4M380.1,56.8v-1.4M371.0,50.0h1.4M381.5,56.8v-1.4M371.0,49.2h1.4M382.7,56.8v-1.4M371.0,48.6h1.4M383.7,56.8v-1.4M371.0,48.0h1.4M384.6,56.8v-1.4M371.0,47.5h1.4M385.4,56.8v-1.4M369.2,47.0h3.4M386.1,55.2v3.3M371.0,44.1h1.4M390.6,56.8v-1.4M371.0,42.4h1.4M393.3,56.8v-1.4M371.0,41.2h1.4M395.2,56.8v-1.4M371.0,40.2h1.4M396.6,56.8v-1.4M371.0,39.5h1.4M397.8,56.8v-1.4M371.0,38.8h1.4M398.8,56.8v-1.4M371.0,38.2h1.4M399.7,56.8v-1.4M371.0,37.7h1.4M400.5,56.8v-1.4M369.2,37.3h3.4M401.1,55.2v3.3M371.0,34.4h1.4M405.7,56.8v-1.4M371.0,32.6h1.4M408.3,56.8v-1.4M371.0,31.4h1.4M410.2,56.8v-1.4M371.0,30.5h1.4M411.7,56.8v-1.4M371.0,29.7h1.4M412.9,56.8v-1.4M371.0,29.1h1.4M413.9,56.8v-1.4M371.0,28.5h1.4M414.8,56.8v-1.4M371.0,28.0h1.4M415.5,56.8v-1.4M369.2,27.5h3.4M416.2,55.2v3.3M371.0,24.6h1.4M420.8,56.8v-1.4M371.0,22.9h1.4M423.4,56.8v-1.4M371.0,21.7h1.4M425.3,56.8v-1.4M371.0,20.7h1.4M426.8,56.8v-1.4M371.0,20.0h1.4M428.0,56.8v-1.4M371.0,19.3h1.4M429.0,56.8v-1.4M371.0,18.7h1.4M429.8,56.8v-1.4M371.0,18.2h1.4M430.6,56.8v-1.4M369.2,17.8h3.4M431.3,55.2v3.3" stroke="#222" stroke-width="0.8" fill="none"/>
<rect x="411.25" y="31.4" width="11.2" height="17.9" fill="none" stroke="#4a4a4a" stroke-width="1.1"/>
<text x="427.9" y="25.6" text-anchor="end" font-family='"Liberation Sans", sans-serif' font-weight="bold" font-size="8.5" fill="#111" stroke="#111" stroke-width="0.2" textLength="9" lengthAdjust="spacingAndGlyphs">3.0</text>
<g clip-path="url(#c10)"><g filter="url(#f10)">
<rect x="140" y="64.8" width="72.30000000000001" height="51.2" fill="#000" fill-opacity="0.0"/>
<polygon points="142.0,76.5 185.0,75.5 192.0,82.0 142.0,82.0" fill="#000" fill-opacity="0.12"/>
<polygon points="187.5,85.6 197.5,85.6 197.5,102.5 187.5,102.5" fill="#000" fill-opacity="0.4"/>
<polygon points="142.0,100.0 186.0,100.0 186.0,114.0 142.0,114.0" fill="#000" fill-opacity="0.55"/>
<polygon points="142.0,82.5 157.5,80.6 167.5,81.9 172.5,79.4 182.5,79.4 186.2,82.5 186.2,98.8 182.5,105.0 170.0,103.8 157.5,102.5 142.0,101.2" fill="#000" fill-opacity="0.8"/>
</g></g>
<path d="M146.0,110.0V70.8H206.3V110.0" fill="none" stroke="#666" stroke-width="1"/>
<path d="M146.0,71.3V110.0H206.3" fill="none" stroke="#111" stroke-width="1.7"/>
<path d="M144.2,110.0h3.4M146.0,108.4v3.3M146.0,107.0h1.4M150.5,110.0v-1.4M146.0,105.3h1.4M153.2,110.0v-1.4M146.0,104.1h1.4M155.1,110.0v-1.4M146.0,103.2h1.4M156.5,110.0v-1.4M146.0,102.4h1.4M157.7,110.0v-1.4M146.0,101.7h1.4M158.7,110.0v-1.4M146.0,101.1h1.4M159.6,110.0v-1.4M146.0,100.6h1.4M160.4,110.0v-1.4M144.2,100.2h3.4M161.1,108.4v3.3M146.0,97.2h1.4M165.6,110.0v-1.4M146.0,95.5h1.4M168.3,110.0v-1.4M146.0,94.3h1.4M170.2,110.0v-1.4M146.0,93.4h1.4M171.6,110.0v-1.4M146.0,92.6h1.4M172.8,110.0v-1.4M146.0,91.9h1.4M173.8,110.0v-1.4M146.0,91.3h1.4M174.7,110.0v-1.4M146.0,90.8h1.4M175.5,110.0v-1.4M144.2,90.4h3.4M176.2,108.4v3.3M146.0,87.4h1.4M180.7,110.0v-1.4M146.0,85.7h1.4M183.3,110.0v-1.4M146.0,84.5h1.4M185.2,110.0v-1.4M146.0,83.6h1.4M186.7,110.0v-1.4M146.0,82.8h1.4M187.9,110.0v-1.4M146.0,82.1h1.4M188.9,110.0v-1.4M146.0,81.5h1.4M189.8,110.0v-1.4M146.0,81.0h1.4M190.5,110.0v-1.4M144.2,80.6h3.4M191.2,108.4v3.3M146.0,77.6h1.4M195.8,110.0v-1.4M146.0,75.9h1.4M198.4,110.0v-1.4M146.0,74.7h1.4M200.3,110.0v-1.4M146.0,73.8h1.4M201.8,110.0v-1.4M146.0,73.0h1.4M203.0,110.0v-1.4M146.0,72.3h1.4M204.0,110.0v-1.4M146.0,71.7h1.4M204.8,110.0v-1.4M146.0,71.2h1.4M205.6,110.0v-1.4M144.2,70.8h3.4M206.3,108.4v3.3" stroke="#222" stroke-width="0.8" fill="none"/>
<text transform="translate(140.6,113.8) rotate(-90)" font-family='"Liberation Sans", sans-serif' font-size="4.9" fill="#444" stroke="#444" stroke-width="0.3">10<tspan dy="-1.9" font-size="3.6">0</tspan></text>
<text transform="translate(140.6,104.0) rotate(-90)" font-family='"Liberation Sans", sans-serif' font-size="4.9" fill="#444" stroke="#444" stroke-width="0.3">10<tspan dy="-1.9" font-size="3.6">1</tspan></text>
<text transform="translate(140.6,94.2) rotate(-90)" font-family='"Liberation Sans", sans-serif' font-size="4.9" fill="#444" stroke="#444" stroke-width="0.3">10<tspan dy="-1.9" font-size="3.6">2</tspan></text>
<text transform="translate(140.6,84.4) rotate(-90)" font-family='"Liberation Sans", sans-serif' font-size="4.9" fill="#444" stroke="#444" stroke-width="0.3">10<tspan dy="-1.9" font-size="3.6">3</tspan></text>
<text transform="translate(140.6,74.6) rotate(-90)" font-family='"Liberation Sans", sans-serif' font-size="4.9" fill="#444" stroke="#444" stroke-width="0.3">10<tspan dy="-1.9" font-size="3.6">4</tspan></text>
<rect x="186.3" y="84" width="12.7" height="21.2" fill="none" stroke="#4a4a4a" stroke-width="1.1"/>
<text x="202.9" y="78.5" text-anchor="end" font-family='"Liberation Sans", sans-serif' font-weight="bold" font-size="8.5" fill="#111" stroke="#111" stroke-width="0.2" textLength="9" lengthAdjust="spacingAndGlyphs">2.1</text>
<g clip-path="url(#c11)"><g filter="url(#f11)">
<rect x="212" y="65" width="72.10000000000002" height="51" fill="#000" fill-opacity="0.0"/>
<polygon points="228.5,77.5 247.2,67.0 259.8,75.0 257.2,81.2 228.5,82.5" fill="#000" fill-opacity="0.2"/>
<polygon points="214.0,84.0 224.0,84.0 224.0,106.0 214.0,106.0" fill="#000" fill-opacity="0.3"/>
<polygon points="258.5,84.5 268.5,84.5 268.5,101.0 258.5,101.0" fill="#000" fill-opacity="0.45"/>
<polygon points="222.0,98.8 256.0,98.8 254.8,106.2 222.0,106.2" fill="#000" fill-opacity="0.5"/>
<polygon points="223.5,83.8 234.8,81.9 244.8,80.6 252.2,79.4 256.0,81.2 256.6,95.0 253.5,101.2 241.0,102.5 228.5,102.5 222.2,98.8 221.6,88.8" fill="#000" fill-opacity="0.85"/>
</g></g>
<path d="M218.0,110.0V71.0H278.1V110.0" fill="none" stroke="#666" stroke-width="1"/>
<path d="M218.0,71.5V110.0H278.1" fill="none" stroke="#111" stroke-width="1.7"/>
<path d="M216.2,110.0h3.4M218.0,108.4v3.3M218.0,107.1h1.4M222.5,110.0v-1.4M218.0,105.3h1.4M225.2,110.0v-1.4M218.0,104.1h1.4M227.0,110.0v-1.4M218.0,103.2h1.4M228.5,110.0v-1.4M218.0,102.4h1.4M229.7,110.0v-1.4M218.0,101.8h1.4M230.7,110.0v-1.4M218.0,101.2h1.4M231.6,110.0v-1.4M218.0,100.7h1.4M232.3,110.0v-1.4M216.2,100.2h3.4M233.0,108.4v3.3M218.0,97.3h1.4M237.5,110.0v-1.4M218.0,95.6h1.4M240.2,110.0v-1.4M218.0,94.4h1.4M242.1,110.0v-1.4M218.0,93.4h1.4M243.5,110.0v-1.4M218.0,92.7h1.4M244.7,110.0v-1.4M218.0,92.0h1.4M245.7,110.0v-1.4M218.0,91.4h1.4M246.6,110.0v-1.4M218.0,90.9h1.4M247.4,110.0v-1.4M216.2,90.5h3.4M248.1,108.4v3.3M218.0,87.6h1.4M252.6,110.0v-1.4M218.0,85.8h1.4M255.2,110.0v-1.4M218.0,84.6h1.4M257.1,110.0v-1.4M218.0,83.7h1.4M258.6,110.0v-1.4M218.0,82.9h1.4M259.7,110.0v-1.4M218.0,82.3h1.4M260.7,110.0v-1.4M218.0,81.7h1.4M261.6,110.0v-1.4M218.0,81.2h1.4M262.4,110.0v-1.4M216.2,80.8h3.4M263.1,108.4v3.3M218.0,77.8h1.4M267.6,110.0v-1.4M218.0,76.1h1.4M270.2,110.0v-1.4M218.0,74.9h1.4M272.1,110.0v-1.4M218.0,73.9h1.4M273.6,110.0v-1.4M218.0,73.2h1.4M274.8,110.0v-1.4M218.0,72.5h1.4M275.8,110.0v-1.4M218.0,71.9h1.4M276.6,110.0v-1.4M218.0,71.4h1.4M277.4,110.0v-1.4M216.2,71.0h3.4M278.1,108.4v3.3" stroke="#222" stroke-width="0.8" fill="none"/>
<rect x="257.25" y="83.5" width="12.5" height="20.5" fill="none" stroke="#4a4a4a" stroke-width="1.1"/>
<text x="274.7" y="78.8" text-anchor="end" font-family='"Liberation Sans", sans-serif' font-weight="bold" font-size="8.5" fill="#111" stroke="#111" stroke-width="0.2" textLength="9" lengthAdjust="spacingAndGlyphs">4.5</text>
<g clip-path="url(#c12)"><g filter="url(#f12)">
<rect x="289.3" y="64.8" width="72.5" height="51.2" fill="#000" fill-opacity="0.0"/>
<polygon points="306.5,77.5 319.0,73.8 335.2,73.8 337.8,77.5 319.0,80.0 306.5,82.5" fill="#000" fill-opacity="0.2"/>
<polygon points="291.3,82.5 309.0,80.0 319.0,77.5 301.5,88.8 291.3,95.0" fill="#000" fill-opacity="0.45"/>
<polygon points="291.3,101.0 334.0,101.0 331.5,114.0 291.3,114.0" fill="#000" fill-opacity="0.45"/>
<polygon points="335.5,84.5 346.5,84.5 346.5,100.0 335.5,100.0" fill="#000" fill-opacity="0.5"/>
<polygon points="301.5,88.8 309.0,83.8 319.0,80.0 329.0,77.5 334.0,78.8 334.6,88.8 334.0,101.2 329.0,105.0 306.5,105.0 300.2,101.2" fill="#000" fill-opacity="0.88"/>
</g></g>
<path d="M295.3,110.0V70.8H355.8V110.0" fill="none" stroke="#666" stroke-width="1"/>
<path d="M295.3,71.3V110.0H355.8" fill="none" stroke="#111" stroke-width="1.7"/>
<path d="M293.5,110.0h3.4M295.3,108.4v3.3M295.3,107.0h1.4M299.9,110.0v-1.4M295.3,105.3h1.4M302.5,110.0v-1.4M295.3,104.1h1.4M304.4,110.0v-1.4M295.3,103.2h1.4M305.9,110.0v-1.4M295.3,102.4h1.4M307.1,110.0v-1.4M295.3,101.7h1.4M308.1,110.0v-1.4M295.3,101.1h1.4M309.0,110.0v-1.4M295.3,100.6h1.4M309.7,110.0v-1.4M293.5,100.2h3.4M310.4,108.4v3.3M295.3,97.2h1.4M315.0,110.0v-1.4M295.3,95.5h1.4M317.6,110.0v-1.4M295.3,94.3h1.4M319.5,110.0v-1.4M295.3,93.4h1.4M321.0,110.0v-1.4M295.3,92.6h1.4M322.2,110.0v-1.4M295.3,91.9h1.4M323.2,110.0v-1.4M295.3,91.3h1.4M324.1,110.0v-1.4M295.3,90.8h1.4M324.9,110.0v-1.4M293.5,90.4h3.4M325.6,108.4v3.3M295.3,87.4h1.4M330.1,110.0v-1.4M295.3,85.7h1.4M332.8,110.0v-1.4M295.3,84.5h1.4M334.7,110.0v-1.4M295.3,83.6h1.4M336.1,110.0v-1.4M295.3,82.8h1.4M337.3,110.0v-1.4M295.3,82.1h1.4M338.3,110.0v-1.4M295.3,81.5h1.4M339.2,110.0v-1.4M295.3,81.0h1.4M340.0,110.0v-1.4M293.5,80.6h3.4M340.7,108.4v3.3M295.3,77.6h1.4M345.2,110.0v-1.4M295.3,75.9h1.4M347.9,110.0v-1.4M295.3,74.7h1.4M349.8,110.0v-1.4M295.3,73.8h1.4M351.2,110.0v-1.4M295.3,73.0h1.4M352.4,110.0v-1.4M295.3,72.3h1.4M353.5,110.0v-1.4M295.3,71.7h1.4M354.3,110.0v-1.4M295.3,71.2h1.4M355.1,110.0v-1.4M293.5,70.8h3.4M355.8,108.4v3.3" stroke="#222" stroke-width="0.8" fill="none"/>
<rect x="334.6" y="83.75" width="13.0" height="19.0" fill="none" stroke="#4a4a4a" stroke-width="1.1"/>
<text x="352.4" y="78.5" text-anchor="end" font-family='"Liberation Sans", sans-serif' font-weight="bold" font-size="8.5" fill="#111" stroke="#111" stroke-width="0.2" textLength="9" lengthAdjust="spacingAndGlyphs">4.3</text>
<g clip-path="url(#c13)"><g filter="url(#f13)">
<rect x="365.5" y="65.5" width="71.80000000000001" height="50.5" fill="#000" fill-opacity="0.0"/>
<polygon points="367.5,75.0 394.0,67.5 412.8,67.5 412.1,83.8 367.5,82.5" fill="#000" fill-opacity="0.2"/>
<polygon points="413.0,85.5 422.5,85.5 422.5,100.0 413.0,100.0" fill="#000" fill-opacity="0.4"/>
<polygon points="367.5,88.0 383.0,84.0 391.5,82.5 390.2,98.8 394.0,106.2 367.5,114.0" fill="#000" fill-opacity="0.72"/>
<polygon points="391.5,82.5 399.0,78.5 408.0,75.5 412.0,78.0 412.1,95.0 410.2,103.8 404.0,114.0 394.0,106.2 390.2,98.8 389.0,88.8" fill="#000" fill-opacity="1.0"/>
</g></g>
<path d="M371.5,110.0V71.5H431.3V110.0" fill="none" stroke="#666" stroke-width="1"/>
<path d="M371.5,72.0V110.0H431.3" fill="none" stroke="#111" stroke-width="1.7"/>
<path d="M369.7,110.0h3.4M371.5,108.4v3.3M371.5,107.1h1.4M376.0,110.0v-1.4M371.5,105.4h1.4M378.6,110.0v-1.4M371.5,104.2h1.4M380.5,110.0v-1.4M371.5,103.3h1.4M381.9,110.0v-1.4M371.5,102.5h1.4M383.1,110.0v-1.4M371.5,101.9h1.4M384.1,110.0v-1.4M371.5,101.3h1.4M385.0,110.0v-1.4M371.5,100.8h1.4M385.8,110.0v-1.4M369.7,100.4h3.4M386.4,108.4v3.3M371.5,97.5h1.4M391.0,110.0v-1.4M371.5,95.8h1.4M393.6,110.0v-1.4M371.5,94.6h1.4M395.5,110.0v-1.4M371.5,93.6h1.4M396.9,110.0v-1.4M371.5,92.9h1.4M398.1,110.0v-1.4M371.5,92.2h1.4M399.1,110.0v-1.4M371.5,91.7h1.4M400.0,110.0v-1.4M371.5,91.2h1.4M400.7,110.0v-1.4M369.7,90.8h3.4M401.4,108.4v3.3M371.5,87.9h1.4M405.9,110.0v-1.4M371.5,86.2h1.4M408.5,110.0v-1.4M371.5,85.0h1.4M410.4,110.0v-1.4M371.5,84.0h1.4M411.8,110.0v-1.4M371.5,83.3h1.4M413.0,110.0v-1.4M371.5,82.6h1.4M414.0,110.0v-1.4M371.5,82.1h1.4M414.9,110.0v-1.4M371.5,81.6h1.4M415.7,110.0v-1.4M369.7,81.1h3.4M416.4,108.4v3.3M371.5,78.2h1.4M420.9,110.0v-1.4M371.5,76.5h1.4M423.5,110.0v-1.4M371.5,75.3h1.4M425.4,110.0v-1.4M371.5,74.4h1.4M426.8,110.0v-1.4M371.5,73.6h1.4M428.0,110.0v-1.4M371.5,73.0h1.4M429.0,110.0v-1.4M371.5,72.4h1.4M429.9,110.0v-1.4M371.5,71.9h1.4M430.6,110.0v-1.4M369.7,71.5h3.4M431.3,108.4v3.3" stroke="#222" stroke-width="0.8" fill="none"/>
<rect x="412.1" y="84.4" width="11.3" height="16.8" fill="none" stroke="#4a4a4a" stroke-width="1.1"/>
<text x="427.9" y="79.2" text-anchor="end" font-family='"Liberation Sans", sans-serif' font-weight="bold" font-size="8.5" fill="#111" stroke="#111" stroke-width="0.2" textLength="9" lengthAdjust="spacingAndGlyphs">2.2</text>
<g clip-path="url(#c20)"><g filter="url(#f20)">
<rect x="140" y="118.6" width="72.30000000000001" height="50.70000000000002" fill="#000" fill-opacity="0.0"/>
<polygon points="142.0,131.5 182.5,130.2 182.5,135.2 142.0,135.9" fill="#000" fill-opacity="0.1"/>
<polygon points="172.0,146.5 182.5,142.8 185.0,155.2 182.5,167.3 172.0,167.3" fill="#000" fill-opacity="0.35"/>
<polygon points="142.0,159.0 186.0,159.0 186.0,167.3 142.0,167.3" fill="#000" fill-opacity="0.45"/>
<polygon points="172.0,134.0 177.5,131.5 184.5,131.5 184.0,140.2 178.0,146.5 172.0,150.0" fill="#000" fill-opacity="0.7"/>
<polygon points="142.0,135.9 157.5,135.0 170.0,133.5 174.0,136.0 173.0,149.0 172.0,159.0 142.0,159.0" fill="#000" fill-opacity="1.0"/>
</g></g>
<path d="M146.0,163.3V124.6H206.3V163.3" fill="none" stroke="#666" stroke-width="1"/>
<path d="M146.0,125.1V163.3H206.3" fill="none" stroke="#111" stroke-width="1.7"/>
<path d="M144.2,163.3h3.4M146.0,161.7v3.3M146.0,160.4h1.4M150.5,163.3v-1.4M146.0,158.7h1.4M153.2,163.3v-1.4M146.0,157.5h1.4M155.1,163.3v-1.4M146.0,156.5h1.4M156.5,163.3v-1.4M146.0,155.8h1.4M157.7,163.3v-1.4M146.0,155.1h1.4M158.7,163.3v-1.4M146.0,154.6h1.4M159.6,163.3v-1.4M146.0,154.1h1.4M160.4,163.3v-1.4M144.2,153.6h3.4M161.1,161.7v3.3M146.0,150.7h1.4M165.6,163.3v-1.4M146.0,149.0h1.4M168.3,163.3v-1.4M146.0,147.8h1.4M170.2,163.3v-1.4M146.0,146.9h1.4M171.6,163.3v-1.4M146.0,146.1h1.4M172.8,163.3v-1.4M146.0,145.4h1.4M173.8,163.3v-1.4M146.0,144.9h1.4M174.7,163.3v-1.4M146.0,144.4h1.4M175.5,163.3v-1.4M144.2,143.9h3.4M176.2,161.7v3.3M146.0,141.0h1.4M180.7,163.3v-1.4M146.0,139.3h1.4M183.3,163.3v-1.4M146.0,138.1h1.4M185.2,163.3v-1.4M146.0,137.2h1.4M186.7,163.3v-1.4M146.0,136.4h1.4M187.9,163.3v-1.4M146.0,135.8h1.4M188.9,163.3v-1.4M146.0,135.2h1.4M189.8,163.3v-1.4M146.0,134.7h1.4M190.5,163.3v-1.4M144.2,134.3h3.4M191.2,161.7v3.3M146.0,131.4h1.4M195.8,163.3v-1.4M146.0,129.7h1.4M198.4,163.3v-1.4M146.0,128.5h1.4M200.3,163.3v-1.4M146.0,127.5h1.4M201.8,163.3v-1.4M146.0,126.7h1.4M203.0,163.3v-1.4M146.0,126.1h1.4M204.0,163.3v-1.4M146.0,125.5h1.4M204.8,163.3v-1.4M146.0,125.0h1.4M205.6,163.3v-1.4M144.2,124.6h3.4M206.3,161.7v3.3" stroke="#222" stroke-width="0.8" fill="none"/>
<text transform="translate(140.6,167.1) rotate(-90)" font-family='"Liberation Sans", sans-serif' font-size="4.9" fill="#444" stroke="#444" stroke-width="0.3">10<tspan dy="-1.9" font-size="3.6">0</tspan></text>
<text transform="translate(140.6,157.4) rotate(-90)" font-family='"Liberation Sans", sans-serif' font-size="4.9" fill="#444" stroke="#444" stroke-width="0.3">10<tspan dy="-1.9" font-size="3.6">1</tspan></text>
<text transform="translate(140.6,147.8) rotate(-90)" font-family='"Liberation Sans", sans-serif' font-size="4.9" fill="#444" stroke="#444" stroke-width="0.3">10<tspan dy="-1.9" font-size="3.6">2</tspan></text>
<text transform="translate(140.6,138.1) rotate(-90)" font-family='"Liberation Sans", sans-serif' font-size="4.9" fill="#444" stroke="#444" stroke-width="0.3">10<tspan dy="-1.9" font-size="3.6">3</tspan></text>
<text transform="translate(140.6,128.4) rotate(-90)" font-family='"Liberation Sans", sans-serif' font-size="4.9" fill="#444" stroke="#444" stroke-width="0.3">10<tspan dy="-1.9" font-size="3.6">4</tspan></text>
<rect x="186.3" y="137.1" width="13.2" height="21.3" fill="none" stroke="#4a4a4a" stroke-width="1.1"/>
<text x="202.9" y="132.3" text-anchor="end" font-family='"Liberation Sans", sans-serif' font-weight="bold" font-size="8.5" fill="#111" stroke="#111" stroke-width="0.2" textLength="9" lengthAdjust="spacingAndGlyphs">0.0</text>
<g clip-path="url(#c21)"><g filter="url(#f21)">
<rect x="212" y="118.6" width="72.10000000000002" height="50.70000000000002" fill="#000" fill-opacity="0.0"/>
<polygon points="222.2,131.5 257.2,129.0 258.5,134.0 222.2,137.8" fill="#000" fill-opacity="0.12"/>
<polygon points="247.2,149.0 256.0,146.5 257.2,159.0 246.0,167.3" fill="#000" fill-opacity="0.35"/>
<polygon points="214.0,139.0 222.5,139.0 222.5,160.0 214.0,160.0" fill="#000" fill-opacity="0.5"/>
<polygon points="248.5,133.5 253.5,131.5 258.5,132.5 257.2,142.8 253.5,151.5 247.2,149.0" fill="#000" fill-opacity="0.72"/>
<polygon points="222.2,141.5 228.5,136.0 241.0,135.0 248.5,133.5 251.0,139.0 248.0,149.0 246.0,159.0 222.2,159.0 214.0,149.0" fill="#000" fill-opacity="1.0"/>
</g></g>
<path d="M218.0,163.3V124.6H278.1V163.3" fill="none" stroke="#666" stroke-width="1"/>
<path d="M218.0,125.1V163.3H278.1" fill="none" stroke="#111" stroke-width="1.7"/>
<path d="M216.2,163.3h3.4M218.0,161.7v3.3M218.0,160.4h1.4M222.5,163.3v-1.4M218.0,158.7h1.4M225.2,163.3v-1.4M218.0,157.5h1.4M227.0,163.3v-1.4M218.0,156.5h1.4M228.5,163.3v-1.4M218.0,155.8h1.4M229.7,163.3v-1.4M218.0,155.1h1.4M230.7,163.3v-1.4M218.0,154.6h1.4M231.6,163.3v-1.4M218.0,154.1h1.4M232.3,163.3v-1.4M216.2,153.6h3.4M233.0,161.7v3.3M218.0,150.7h1.4M237.5,163.3v-1.4M218.0,149.0h1.4M240.2,163.3v-1.4M218.0,147.8h1.4M242.1,163.3v-1.4M218.0,146.9h1.4M243.5,163.3v-1.4M218.0,146.1h1.4M244.7,163.3v-1.4M218.0,145.4h1.4M245.7,163.3v-1.4M218.0,144.9h1.4M246.6,163.3v-1.4M218.0,144.4h1.4M247.4,163.3v-1.4M216.2,143.9h3.4M248.1,161.7v3.3M218.0,141.0h1.4M252.6,163.3v-1.4M218.0,139.3h1.4M255.2,163.3v-1.4M218.0,138.1h1.4M257.1,163.3v-1.4M218.0,137.2h1.4M258.6,163.3v-1.4M218.0,136.4h1.4M259.7,163.3v-1.4M218.0,135.8h1.4M260.7,163.3v-1.4M218.0,135.2h1.4M261.6,163.3v-1.4M218.0,134.7h1.4M262.4,163.3v-1.4M216.2,134.3h3.4M263.1,161.7v3.3M218.0,131.4h1.4M267.6,163.3v-1.4M218.0,129.7h1.4M270.2,163.3v-1.4M218.0,128.5h1.4M272.1,163.3v-1.4M218.0,127.5h1.4M273.6,163.3v-1.4M218.0,126.7h1.4M274.8,163.3v-1.4M218.0,126.1h1.4M275.8,163.3v-1.4M218.0,125.5h1.4M276.6,163.3v-1.4M218.0,125.0h1.4M277.4,163.3v-1.4M216.2,124.6h3.4M278.1,161.7v3.3" stroke="#222" stroke-width="0.8" fill="none"/>
<rect x="257.25" y="137.1" width="13.4" height="20.7" fill="none" stroke="#4a4a4a" stroke-width="1.1"/>
<text x="274.7" y="132.3" text-anchor="end" font-family='"Liberation Sans", sans-serif' font-weight="bold" font-size="8.5" fill="#111" stroke="#111" stroke-width="0.2" textLength="9" lengthAdjust="spacingAndGlyphs">0.2</text>
<g clip-path="url(#c22)"><g filter="url(#f22)">
<rect x="289.3" y="118.6" width="72.5" height="50.70000000000002" fill="#000" fill-opacity="0.0"/>
<polygon points="300.2,131.5 319.0,127.8 334.0,129.0 334.0,133.4 291.3,137.8" fill="#000" fill-opacity="0.15"/>
<polygon points="335.0,138.0 347.0,138.0 347.0,156.0 335.0,156.0" fill="#000" fill-opacity="0.05"/>
<polygon points="291.3,159.0 333.0,159.0 333.0,167.3 291.3,167.3" fill="#000" fill-opacity="0.4"/>
<polygon points="291.3,137.8 306.5,135.9 319.0,133.4 329.0,132.1 332.8,134.0 333.4,149.0 332.1,159.0 291.3,159.6" fill="#000" fill-opacity="1.0"/>
</g></g>
<path d="M295.3,163.3V124.6H355.8V163.3" fill="none" stroke="#666" stroke-width="1"/>
<path d="M295.3,125.1V163.3H355.8" fill="none" stroke="#111" stroke-width="1.7"/>
<path d="M293.5,163.3h3.4M295.3,161.7v3.3M295.3,160.4h1.4M299.9,163.3v-1.4M295.3,158.7h1.4M302.5,163.3v-1.4M295.3,157.5h1.4M304.4,163.3v-1.4M295.3,156.5h1.4M305.9,163.3v-1.4M295.3,155.8h1.4M307.1,163.3v-1.4M295.3,155.1h1.4M308.1,163.3v-1.4M295.3,154.6h1.4M309.0,163.3v-1.4M295.3,154.1h1.4M309.7,163.3v-1.4M293.5,153.6h3.4M310.4,161.7v3.3M295.3,150.7h1.4M315.0,163.3v-1.4M295.3,149.0h1.4M317.6,163.3v-1.4M295.3,147.8h1.4M319.5,163.3v-1.4M295.3,146.9h1.4M321.0,163.3v-1.4M295.3,146.1h1.4M322.2,163.3v-1.4M295.3,145.4h1.4M323.2,163.3v-1.4M295.3,144.9h1.4M324.1,163.3v-1.4M295.3,144.4h1.4M324.9,163.3v-1.4M293.5,143.9h3.4M325.6,161.7v3.3M295.3,141.0h1.4M330.1,163.3v-1.4M295.3,139.3h1.4M332.8,163.3v-1.4M295.3,138.1h1.4M334.7,163.3v-1.4M295.3,137.2h1.4M336.1,163.3v-1.4M295.3,136.4h1.4M337.3,163.3v-1.4M295.3,135.8h1.4M338.3,163.3v-1.4M295.3,135.2h1.4M339.2,163.3v-1.4M295.3,134.7h1.4M340.0,163.3v-1.4M293.5,134.3h3.4M340.7,161.7v3.3M295.3,131.4h1.4M345.2,163.3v-1.4M295.3,129.7h1.4M347.9,163.3v-1.4M295.3,128.5h1.4M349.8,163.3v-1.4M295.3,127.5h1.4M351.2,163.3v-1.4M295.3,126.7h1.4M352.4,163.3v-1.4M295.3,126.1h1.4M353.5,163.3v-1.4M295.3,125.5h1.4M354.3,163.3v-1.4M295.3,125.0h1.4M355.1,163.3v-1.4M293.5,124.6h3.4M355.8,161.7v3.3" stroke="#222" stroke-width="0.8" fill="none"/>
<rect x="334.25" y="137.5" width="13.4" height="19.0" fill="none" stroke="#4a4a4a" stroke-width="1.1"/>
<text x="352.4" y="132.3" text-anchor="end" font-family='"Liberation Sans", sans-serif' font-weight="bold" font-size="8.5" fill="#111" stroke="#111" stroke-width="0.2" textLength="9" lengthAdjust="spacingAndGlyphs">0.0</text>
<g clip-path="url(#c23)"><g filter="url(#f23)">
<rect x="365" y="118.6" width="72.30000000000001" height="50.70000000000002" fill="#000" fill-opacity="0.0"/>
<polygon points="375.2,130.2 406.5,129.0 410.2,132.8 386.5,136.5 367.0,136.5" fill="#000" fill-opacity="0.15"/>
<polygon points="406.5,132.8 411.5,134.0 410.2,157.8 405.2,157.8" fill="#000" fill-opacity="0.25"/>
<polygon points="367.0,158.5 409.0,158.5 409.0,167.3 367.0,167.3" fill="#000" fill-opacity="0.35"/>
<polygon points="367.0,136.5 386.5,136.5 381.5,139.0 367.0,146.5" fill="#000" fill-opacity="0.5"/>
<polygon points="386.5,136.5 396.5,133.4 406.5,132.8 409.0,136.5 407.8,149.0 405.2,157.8 381.5,159.0 367.0,157.8 367.0,146.5 381.5,139.0" fill="#000" fill-opacity="1.0"/>
</g></g>
<path d="M371.0,163.3V124.6H431.3V163.3" fill="none" stroke="#666" stroke-width="1"/>
<path d="M371.0,125.1V163.3H431.3" fill="none" stroke="#111" stroke-width="1.7"/>
<path d="M369.2,163.3h3.4M371.0,161.7v3.3M371.0,160.4h1.4M375.5,163.3v-1.4M371.0,158.7h1.4M378.2,163.3v-1.4M371.0,157.5h1.4M380.1,163.3v-1.4M371.0,156.5h1.4M381.5,163.3v-1.4M371.0,155.8h1.4M382.7,163.3v-1.4M371.0,155.1h1.4M383.7,163.3v-1.4M371.0,154.6h1.4M384.6,163.3v-1.4M371.0,154.1h1.4M385.4,163.3v-1.4M369.2,153.6h3.4M386.1,161.7v3.3M371.0,150.7h1.4M390.6,163.3v-1.4M371.0,149.0h1.4M393.3,163.3v-1.4M371.0,147.8h1.4M395.2,163.3v-1.4M371.0,146.9h1.4M396.6,163.3v-1.4M371.0,146.1h1.4M397.8,163.3v-1.4M371.0,145.4h1.4M398.8,163.3v-1.4M371.0,144.9h1.4M399.7,163.3v-1.4M371.0,144.4h1.4M400.5,163.3v-1.4M369.2,143.9h3.4M401.1,161.7v3.3M371.0,141.0h1.4M405.7,163.3v-1.4M371.0,139.3h1.4M408.3,163.3v-1.4M371.0,138.1h1.4M410.2,163.3v-1.4M371.0,137.2h1.4M411.7,163.3v-1.4M371.0,136.4h1.4M412.9,163.3v-1.4M371.0,135.8h1.4M413.9,163.3v-1.4M371.0,135.2h1.4M414.8,163.3v-1.4M371.0,134.7h1.4M415.5,163.3v-1.4M369.2,134.3h3.4M416.2,161.7v3.3M371.0,131.4h1.4M420.8,163.3v-1.4M371.0,129.7h1.4M423.4,163.3v-1.4M371.0,128.5h1.4M425.3,163.3v-1.4M371.0,127.5h1.4M426.8,163.3v-1.4M371.0,126.7h1.4M428.0,163.3v-1.4M371.0,126.1h1.4M429.0,163.3v-1.4M371.0,125.5h1.4M429.8,163.3v-1.4M371.0,125.0h1.4M430.6,163.3v-1.4M369.2,124.6h3.4M431.3,161.7v3.3" stroke="#222" stroke-width="0.8" fill="none"/>
<rect x="410.9" y="137.1" width="11.2" height="17.9" fill="none" stroke="#4a4a4a" stroke-width="1.1"/>
<text x="427.9" y="132.3" text-anchor="end" font-family='"Liberation Sans", sans-serif' font-weight="bold" font-size="8.5" fill="#111" stroke="#111" stroke-width="0.2" textLength="9" lengthAdjust="spacingAndGlyphs">0.0</text>
<g clip-path="url(#c30)"><g filter="url(#f30)">
<rect x="138" y="171.6" width="72.69999999999999" height="50.80000000000001" fill="#000" fill-opacity="0.0"/>
<polygon points="154.5,182.0 173.2,181.0 179.5,181.2 160.8,192.0 155.8,189.5" fill="#000" fill-opacity="0.12"/>
<polygon points="140.0,190.8 155.8,189.5 160.8,192.0 155.8,198.2 156.4,205.8 160.8,210.8 167.0,220.4 140.0,220.4" fill="#000" fill-opacity="0.38"/>
<polygon points="176.4,195.8 183.2,193.2 184.5,202.0 179.5,205.8 175.8,200.8" fill="#000" fill-opacity="0.3"/>
<polygon points="178.2,205.8 183.2,207.0 184.5,220.4 179.5,220.4" fill="#000" fill-opacity="0.5"/>
<polygon points="155.8,198.2 160.8,192.0 167.0,186.4 173.2,182.6 179.5,181.2 187.0,181.0 192.0,181.4 192.0,185.8 185.8,188.9 179.5,192.0 176.4,195.8 175.8,200.8 178.2,205.8 182.0,209.5 179.5,212.6 167.0,220.4 160.8,210.8 156.4,205.8" fill="#000" fill-opacity="1.0"/>
</g></g>
<path d="M144.0,216.4V177.6H204.7V216.4" fill="none" stroke="#666" stroke-width="1"/>
<path d="M144.0,178.1V216.4H204.7" fill="none" stroke="#111" stroke-width="1.7"/>
<path d="M142.2,216.4h3.4M144.0,214.8v3.3M144.0,213.5h1.4M148.6,216.4v-1.4M144.0,211.8h1.4M151.2,216.4v-1.4M144.0,210.6h1.4M153.1,216.4v-1.4M144.0,209.6h1.4M154.6,216.4v-1.4M144.0,208.9h1.4M155.8,216.4v-1.4M144.0,208.2h1.4M156.8,216.4v-1.4M144.0,207.6h1.4M157.7,216.4v-1.4M144.0,207.1h1.4M158.5,216.4v-1.4M142.2,206.7h3.4M159.2,214.8v3.3M144.0,203.8h1.4M163.7,216.4v-1.4M144.0,202.1h1.4M166.4,216.4v-1.4M144.0,200.9h1.4M168.3,216.4v-1.4M144.0,199.9h1.4M169.8,216.4v-1.4M144.0,199.2h1.4M171.0,216.4v-1.4M144.0,198.5h1.4M172.0,216.4v-1.4M144.0,197.9h1.4M172.9,216.4v-1.4M144.0,197.4h1.4M173.7,216.4v-1.4M142.2,197.0h3.4M174.3,214.8v3.3M144.0,194.1h1.4M178.9,216.4v-1.4M144.0,192.4h1.4M181.6,216.4v-1.4M144.0,191.2h1.4M183.5,216.4v-1.4M144.0,190.2h1.4M185.0,216.4v-1.4M144.0,189.5h1.4M186.2,216.4v-1.4M144.0,188.8h1.4M187.2,216.4v-1.4M144.0,188.2h1.4M188.1,216.4v-1.4M144.0,187.7h1.4M188.8,216.4v-1.4M142.2,187.3h3.4M189.5,214.8v3.3M144.0,184.4h1.4M194.1,216.4v-1.4M144.0,182.7h1.4M196.8,216.4v-1.4M144.0,181.5h1.4M198.7,216.4v-1.4M144.0,180.5h1.4M200.1,216.4v-1.4M144.0,179.8h1.4M201.3,216.4v-1.4M144.0,179.1h1.4M202.3,216.4v-1.4M144.0,178.5h1.4M203.2,216.4v-1.4M144.0,178.0h1.4M204.0,216.4v-1.4M142.2,177.6h3.4M204.7,214.8v3.3" stroke="#222" stroke-width="0.8" fill="none"/>
<text transform="translate(138.6,220.2) rotate(-90)" font-family='"Liberation Sans", sans-serif' font-size="4.9" fill="#444" stroke="#444" stroke-width="0.3">10<tspan dy="-1.9" font-size="3.6">0</tspan></text>
<text transform="translate(138.6,210.5) rotate(-90)" font-family='"Liberation Sans", sans-serif' font-size="4.9" fill="#444" stroke="#444" stroke-width="0.3">10<tspan dy="-1.9" font-size="3.6">1</tspan></text>
<text transform="translate(138.6,200.8) rotate(-90)" font-family='"Liberation Sans", sans-serif' font-size="4.9" fill="#444" stroke="#444" stroke-width="0.3">10<tspan dy="-1.9" font-size="3.6">2</tspan></text>
<text transform="translate(138.6,191.1) rotate(-90)" font-family='"Liberation Sans", sans-serif' font-size="4.9" fill="#444" stroke="#444" stroke-width="0.3">10<tspan dy="-1.9" font-size="3.6">3</tspan></text>
<text transform="translate(138.6,181.4) rotate(-90)" font-family='"Liberation Sans", sans-serif' font-size="4.9" fill="#444" stroke="#444" stroke-width="0.3">10<tspan dy="-1.9" font-size="3.6">4</tspan></text>
<rect x="185.3" y="190.1" width="12.1" height="20.9" fill="none" stroke="#4a4a4a" stroke-width="1.1"/>
<text x="201.3" y="185.3" text-anchor="end" font-family='"Liberation Sans", sans-serif' font-weight="bold" font-size="8.5" fill="#111" stroke="#111" stroke-width="0.2" textLength="9" lengthAdjust="spacingAndGlyphs">0.0</text>
<g clip-path="url(#c31)"><g filter="url(#f31)">
<rect x="213.4" y="171.6" width="72.1" height="50.0" fill="#000" fill-opacity="0.0"/>
<polygon points="215.4,189.5 229.5,182.0 244.5,173.6 229.5,195.8 228.2,205.8 235.8,212.0 224.5,219.6 215.4,202.0" fill="#000" fill-opacity="0.25"/>
<polygon points="229.5,195.8 235.8,188.2 244.5,182.0 254.5,173.6 267.0,173.6 267.0,184.5 259.5,189.5 259.5,208.2 252.0,212.0 235.8,212.0 228.2,205.8" fill="#000" fill-opacity="0.63"/>
<polygon points="235.8,195.8 244.5,187.0 254.5,182.0 264.5,173.6 264.5,184.5 257.0,189.5 257.0,205.8 248.2,209.5 237.0,207.0" fill="#000" fill-opacity="0.5"/>
</g></g>
<path d="M219.4,215.6V177.6H279.5V215.6" fill="none" stroke="#666" stroke-width="1"/>
<path d="M219.4,178.1V215.6H279.5" fill="none" stroke="#111" stroke-width="1.7"/>
<path d="M217.6,215.6h3.4M219.4,214.0v3.3M219.4,212.7h1.4M223.9,215.6v-1.4M219.4,211.1h1.4M226.6,215.6v-1.4M219.4,209.9h1.4M228.4,215.6v-1.4M219.4,209.0h1.4M229.9,215.6v-1.4M219.4,208.2h1.4M231.1,215.6v-1.4M219.4,207.6h1.4M232.1,215.6v-1.4M219.4,207.0h1.4M233.0,215.6v-1.4M219.4,206.5h1.4M233.7,215.6v-1.4M217.6,206.1h3.4M234.4,214.0v3.3M219.4,203.2h1.4M238.9,215.6v-1.4M219.4,201.6h1.4M241.6,215.6v-1.4M219.4,200.4h1.4M243.5,215.6v-1.4M219.4,199.5h1.4M244.9,215.6v-1.4M219.4,198.7h1.4M246.1,215.6v-1.4M219.4,198.1h1.4M247.1,215.6v-1.4M219.4,197.5h1.4M248.0,215.6v-1.4M219.4,197.0h1.4M248.8,215.6v-1.4M217.6,196.6h3.4M249.4,214.0v3.3M219.4,193.7h1.4M254.0,215.6v-1.4M219.4,192.1h1.4M256.6,215.6v-1.4M219.4,190.9h1.4M258.5,215.6v-1.4M219.4,190.0h1.4M260.0,215.6v-1.4M219.4,189.2h1.4M261.1,215.6v-1.4M219.4,188.6h1.4M262.1,215.6v-1.4M219.4,188.0h1.4M263.0,215.6v-1.4M219.4,187.5h1.4M263.8,215.6v-1.4M217.6,187.1h3.4M264.5,214.0v3.3M219.4,184.2h1.4M269.0,215.6v-1.4M219.4,182.6h1.4M271.6,215.6v-1.4M219.4,181.4h1.4M273.5,215.6v-1.4M219.4,180.5h1.4M275.0,215.6v-1.4M219.4,179.7h1.4M276.2,215.6v-1.4M219.4,179.1h1.4M277.2,215.6v-1.4M219.4,178.5h1.4M278.0,215.6v-1.4M219.4,178.0h1.4M278.8,215.6v-1.4M217.6,177.6h3.4M279.5,214.0v3.3" stroke="#222" stroke-width="0.8" fill="none"/>
<rect x="260.1" y="189.5" width="12.9" height="21.0" fill="none" stroke="#4a4a4a" stroke-width="1.1"/>
<text x="276.1" y="185.3" text-anchor="end" font-family='"Liberation Sans", sans-serif' font-weight="bold" font-size="8.5" fill="#111" stroke="#111" stroke-width="0.2" textLength="9" lengthAdjust="spacingAndGlyphs">0.2</text>
<g clip-path="url(#c32)"><g filter="url(#f32)">
<rect x="288.9" y="172" width="72.0" height="49.80000000000001" fill="#000" fill-opacity="0.0"/>
<polygon points="300.3,185.8 312.6,174.0 330.0,174.0 317.0,187.6 308.2,192.9 300.3,199.0" fill="#000" fill-opacity="0.15"/>
<polygon points="290.9,198.0 308.0,193.0 318.0,195.0 326.0,200.0 328.0,207.0 322.0,211.5 290.9,211.5" fill="#000" fill-opacity="0.45"/>
<polygon points="326.0,198.0 334.0,204.0 334.0,211.0 326.0,211.0" fill="#000" fill-opacity="0.2"/>
<polygon points="310.0,195.0 314.0,189.0 320.0,184.5 328.0,181.0 336.0,174.0 344.0,174.0 346.5,182.5 344.0,186.5 336.0,190.0 328.0,193.5 320.0,197.0 313.0,198.5" fill="#000" fill-opacity="1.0"/>
</g></g>
<path d="M294.9,215.8V178.0H354.9V215.8" fill="none" stroke="#666" stroke-width="1"/>
<path d="M294.9,178.5V215.8H354.9" fill="none" stroke="#111" stroke-width="1.7"/>
<path d="M293.1,215.8h3.4M294.9,214.2v3.3M294.9,213.0h1.4M299.4,215.8v-1.4M294.9,211.3h1.4M302.1,215.8v-1.4M294.9,210.1h1.4M303.9,215.8v-1.4M294.9,209.2h1.4M305.4,215.8v-1.4M294.9,208.4h1.4M306.6,215.8v-1.4M294.9,207.8h1.4M307.6,215.8v-1.4M294.9,207.3h1.4M308.4,215.8v-1.4M294.9,206.8h1.4M309.2,215.8v-1.4M293.1,206.4h3.4M309.9,214.2v3.3M294.9,203.5h1.4M314.4,215.8v-1.4M294.9,201.8h1.4M317.1,215.8v-1.4M294.9,200.7h1.4M318.9,215.8v-1.4M294.9,199.7h1.4M320.4,215.8v-1.4M294.9,199.0h1.4M321.6,215.8v-1.4M294.9,198.4h1.4M322.6,215.8v-1.4M294.9,197.8h1.4M323.4,215.8v-1.4M294.9,197.3h1.4M324.2,215.8v-1.4M293.1,196.9h3.4M324.9,214.2v3.3M294.9,194.1h1.4M329.4,215.8v-1.4M294.9,192.4h1.4M332.1,215.8v-1.4M294.9,191.2h1.4M333.9,215.8v-1.4M294.9,190.3h1.4M335.4,215.8v-1.4M294.9,189.5h1.4M336.6,215.8v-1.4M294.9,188.9h1.4M337.6,215.8v-1.4M294.9,188.4h1.4M338.4,215.8v-1.4M294.9,187.9h1.4M339.2,215.8v-1.4M293.1,187.4h3.4M339.9,214.2v3.3M294.9,184.6h1.4M344.4,215.8v-1.4M294.9,182.9h1.4M347.1,215.8v-1.4M294.9,181.8h1.4M348.9,215.8v-1.4M294.9,180.8h1.4M350.4,215.8v-1.4M294.9,180.1h1.4M351.6,215.8v-1.4M294.9,179.5h1.4M352.6,215.8v-1.4M294.9,178.9h1.4M353.4,215.8v-1.4M294.9,178.4h1.4M354.2,215.8v-1.4M293.1,178.0h3.4M354.9,214.2v3.3" stroke="#222" stroke-width="0.8" fill="none"/>
<rect x="334.25" y="191.4" width="12.8" height="18.7" fill="none" stroke="#4a4a4a" stroke-width="1.1"/>
<text x="351.5" y="185.8" text-anchor="end" font-family='"Liberation Sans", sans-serif' font-weight="bold" font-size="8.5" fill="#111" stroke="#111" stroke-width="0.2" textLength="9" lengthAdjust="spacingAndGlyphs">0.0</text>
<g clip-path="url(#c33)"><g filter="url(#f33)">
<rect x="364.5" y="173" width="72.0" height="49" fill="#000" fill-opacity="0.0"/>
<polygon points="374.0,185.0 405.0,175.0 434.5,175.0 425.0,192.0 408.0,220.0 374.0,220.0" fill="#000" fill-opacity="0.05"/>
<polygon points="379.8,206.2 388.6,195.6 397.4,188.6 406.2,182.4 411.0,175.0 411.0,200.0 406.2,206.2 397.4,211.5 379.8,212.4" fill="#000" fill-opacity="0.17"/>
<polygon points="384.0,206.0 388.6,199.0 394.0,195.0 400.0,196.0 402.0,203.0 396.0,208.0 386.0,209.0" fill="#000" fill-opacity="0.38"/>
<polygon points="401.0,191.0 404.0,186.0 408.0,182.5 413.0,175.0 419.0,175.0 424.0,183.0 423.0,191.0 417.4,193.5 408.0,194.0 401.0,195.0" fill="#000" fill-opacity="0.5"/>
<polygon points="406.0,186.0 410.0,182.5 413.0,175.0 418.0,175.0 421.5,183.0 421.5,188.0 417.0,191.0 410.0,191.0" fill="#000" fill-opacity="0.85"/>
</g></g>
<path d="M370.5,216.0V179.0H430.5V216.0" fill="none" stroke="#666" stroke-width="1"/>
<path d="M370.5,179.5V216.0H430.5" fill="none" stroke="#111" stroke-width="1.7"/>
<path d="M368.7,216.0h3.4M370.5,214.4v3.3M370.5,213.2h1.4M375.0,216.0v-1.4M370.5,211.6h1.4M377.7,216.0v-1.4M370.5,210.4h1.4M379.5,216.0v-1.4M370.5,209.5h1.4M381.0,216.0v-1.4M370.5,208.8h1.4M382.2,216.0v-1.4M370.5,208.2h1.4M383.2,216.0v-1.4M370.5,207.6h1.4M384.0,216.0v-1.4M370.5,207.2h1.4M384.8,216.0v-1.4M368.7,206.8h3.4M385.5,214.4v3.3M370.5,204.0h1.4M390.0,216.0v-1.4M370.5,202.3h1.4M392.7,216.0v-1.4M370.5,201.2h1.4M394.5,216.0v-1.4M370.5,200.3h1.4M396.0,216.0v-1.4M370.5,199.6h1.4M397.2,216.0v-1.4M370.5,198.9h1.4M398.2,216.0v-1.4M370.5,198.4h1.4M399.0,216.0v-1.4M370.5,197.9h1.4M399.8,216.0v-1.4M368.7,197.5h3.4M400.5,214.4v3.3M370.5,194.7h1.4M405.0,216.0v-1.4M370.5,193.1h1.4M407.7,216.0v-1.4M370.5,191.9h1.4M409.5,216.0v-1.4M370.5,191.0h1.4M411.0,216.0v-1.4M370.5,190.3h1.4M412.2,216.0v-1.4M370.5,189.7h1.4M413.2,216.0v-1.4M370.5,189.1h1.4M414.0,216.0v-1.4M370.5,188.7h1.4M414.8,216.0v-1.4M368.7,188.2h3.4M415.5,214.4v3.3M370.5,185.5h1.4M420.0,216.0v-1.4M370.5,183.8h1.4M422.7,216.0v-1.4M370.5,182.7h1.4M424.5,216.0v-1.4M370.5,181.8h1.4M426.0,216.0v-1.4M370.5,181.1h1.4M427.2,216.0v-1.4M370.5,180.4h1.4M428.2,216.0v-1.4M370.5,179.9h1.4M429.0,216.0v-1.4M370.5,179.4h1.4M429.8,216.0v-1.4M368.7,179.0h3.4M430.5,214.4v3.3" stroke="#222" stroke-width="0.8" fill="none"/>
<rect x="410.25" y="192" width="11.2" height="17.8" fill="none" stroke="#4a4a4a" stroke-width="1.1"/>
<text x="427.1" y="186.8" text-anchor="end" font-family='"Liberation Sans", sans-serif' font-weight="bold" font-size="8.5" fill="#111" stroke="#111" stroke-width="0.2" textLength="9" lengthAdjust="spacingAndGlyphs">0.3</text>
<text x="140.6" y="224.2" font-family='"Liberation Sans", sans-serif' font-size="5.6" fill="#444" stroke="#444" stroke-width="0.25">10<tspan dy="-2.4" font-size="4">0</tspan></text>
<text x="155.8" y="224.2" font-family='"Liberation Sans", sans-serif' font-size="5.6" fill="#444" stroke="#444" stroke-width="0.25">10<tspan dy="-2.4" font-size="4">1</tspan></text>
<text x="170.9" y="224.2" font-family='"Liberation Sans", sans-serif' font-size="5.6" fill="#444" stroke="#444" stroke-width="0.25">10<tspan dy="-2.4" font-size="4">2</tspan></text>
<text x="186.1" y="224.2" font-family='"Liberation Sans", sans-serif' font-size="5.6" fill="#444" stroke="#444" stroke-width="0.25">10<tspan dy="-2.4" font-size="4">3</tspan></text>
<text x="201.3" y="224.2" font-family='"Liberation Sans", sans-serif' font-size="5.6" fill="#444" stroke="#444" stroke-width="0.25">10<tspan dy="-2.4" font-size="4">4</tspan></text>
<text x="216.0" y="223.4" font-family='"Liberation Sans", sans-serif' font-size="5.6" fill="#444" stroke="#444" stroke-width="0.25">10<tspan dy="-2.4" font-size="4">0</tspan></text>
<text x="231.0" y="223.4" font-family='"Liberation Sans", sans-serif' font-size="5.6" fill="#444" stroke="#444" stroke-width="0.25">10<tspan dy="-2.4" font-size="4">1</tspan></text>
<text x="246.0" y="223.4" font-family='"Liberation Sans", sans-serif' font-size="5.6" fill="#444" stroke="#444" stroke-width="0.25">10<tspan dy="-2.4" font-size="4">2</tspan></text>
<text x="261.1" y="223.4" font-family='"Liberation Sans", sans-serif' font-size="5.6" fill="#444" stroke="#444" stroke-width="0.25">10<tspan dy="-2.4" font-size="4">3</tspan></text>
<text x="276.1" y="223.4" font-family='"Liberation Sans", sans-serif' font-size="5.6" fill="#444" stroke="#444" stroke-width="0.25">10<tspan dy="-2.4" font-size="4">4</tspan></text>
<text x="291.5" y="223.6" font-family='"Liberation Sans", sans-serif' font-size="5.6" fill="#444" stroke="#444" stroke-width="0.25">10<tspan dy="-2.4" font-size="4">0</tspan></text>
<text x="306.5" y="223.6" font-family='"Liberation Sans", sans-serif' font-size="5.6" fill="#444" stroke="#444" stroke-width="0.25">10<tspan dy="-2.4" font-size="4">1</tspan></text>
<text x="321.5" y="223.6" font-family='"Liberation Sans", sans-serif' font-size="5.6" fill="#444" stroke="#444" stroke-width="0.25">10<tspan dy="-2.4" font-size="4">2</tspan></text>
<text x="336.5" y="223.6" font-family='"Liberation Sans", sans-serif' font-size="5.6" fill="#444" stroke="#444" stroke-width="0.25">10<tspan dy="-2.4" font-size="4">3</tspan></text>
<text x="351.5" y="223.6" font-family='"Liberation Sans", sans-serif' font-size="5.6" fill="#444" stroke="#444" stroke-width="0.25">10<tspan dy="-2.4" font-size="4">4</tspan></text>
<text x="367.1" y="223.8" font-family='"Liberation Sans", sans-serif' font-size="5.6" fill="#444" stroke="#444" stroke-width="0.25">10<tspan dy="-2.4" font-size="4">0</tspan></text>
<text x="382.1" y="223.8" font-family='"Liberation Sans", sans-serif' font-size="5.6" fill="#444" stroke="#444" stroke-width="0.25">10<tspan dy="-2.4" font-size="4">1</tspan></text>
<text x="397.1" y="223.8" font-family='"Liberation Sans", sans-serif' font-size="5.6" fill="#444" stroke="#444" stroke-width="0.25">10<tspan dy="-2.4" font-size="4">2</tspan></text>
<text x="412.1" y="223.8" font-family='"Liberation Sans", sans-serif' font-size="5.6" fill="#444" stroke="#444" stroke-width="0.25">10<tspan dy="-2.4" font-size="4">3</tspan></text>
<text x="427.1" y="223.8" font-family='"Liberation Sans", sans-serif' font-size="5.6" fill="#444" stroke="#444" stroke-width="0.25">10<tspan dy="-2.4" font-size="4">4</tspan></text>
<text x="90.6" y="14.1" font-family='"Liberation Sans", sans-serif' font-weight="bold" font-size="15.2" fill="#000">A</text>
<text x="159.8" y="8.6" font-family='"Liberation Sans", sans-serif' font-size="8.8" fill="#222" stroke="#222" stroke-width="0.18" textLength="28.2" lengthAdjust="spacingAndGlyphs">Day 10</text>
<text x="232.7" y="8.6" font-family='"Liberation Sans", sans-serif' font-size="8.8" fill="#222" stroke="#222" stroke-width="0.18" textLength="28.5" lengthAdjust="spacingAndGlyphs">Day 15</text>
<text x="311.9" y="8.6" font-family='"Liberation Sans", sans-serif' font-size="8.8" fill="#222" stroke="#222" stroke-width="0.18" textLength="28.1" lengthAdjust="spacingAndGlyphs">Day 20</text>
<text x="385.8" y="8.6" font-family='"Liberation Sans", sans-serif' font-size="8.8" fill="#222" stroke="#222" stroke-width="0.18" textLength="28.0" lengthAdjust="spacingAndGlyphs">Day 25</text>
<text x="89.2" y="39.1" font-family='"Liberation Sans", sans-serif' font-size="8.8" fill="#222" stroke="#222" stroke-width="0.18" textLength="27.5" lengthAdjust="spacingAndGlyphs">FLT3-L</text>
<text x="87.9" y="84.9" font-family='"Liberation Sans", sans-serif' font-size="8.8" fill="#222" stroke="#222" stroke-width="0.18" textLength="27.7" lengthAdjust="spacingAndGlyphs">FLT3-L</text>
<text x="88" y="95.8" font-family='"Liberation Sans", sans-serif' font-size="8.8" fill="#222" stroke="#222" stroke-width="0.18" textLength="23.7" lengthAdjust="spacingAndGlyphs">+ TPO</text>
<text x="89.1" y="149.2" font-family='"Liberation Sans", sans-serif' font-size="8.8" fill="#222" stroke="#222" stroke-width="0.18" textLength="14.9" lengthAdjust="spacingAndGlyphs">TPO</text>
<text x="88.8" y="195" font-family='"Liberation Sans", sans-serif' font-size="8.8" fill="#222" stroke="#222" stroke-width="0.18" textLength="27.2" lengthAdjust="spacingAndGlyphs">FLT3-L</text>
<text x="89" y="206" font-family='"Liberation Sans", sans-serif' font-size="8.8" fill="#222" stroke="#222" stroke-width="0.18" textLength="31.9" lengthAdjust="spacingAndGlyphs">+ TNF-α</text>
<text transform="translate(129.3,133) rotate(-90)" font-family='"Liberation Sans", sans-serif' font-size="8.6" fill="#222" stroke="#222" stroke-width="0.18" textLength="27.5" lengthAdjust="spacingAndGlyphs">HLA-DR</text>
<line x1="127.5" y1="22.5" x2="127.5" y2="99" stroke="#333" stroke-width="1"/>
<line x1="126.6" y1="139.7" x2="126.6" y2="217.6" stroke="#333" stroke-width="1"/>
<line x1="141.5" y1="237.5" x2="269" y2="237.5" stroke="#333" stroke-width="1"/>
<line x1="310.7" y1="237.5" x2="438.6" y2="237.5" stroke="#333" stroke-width="1"/>
<text x="275.6" y="240.1" font-family='"Liberation Sans", sans-serif' font-size="9.2" fill="#222" stroke="#222" stroke-width="0.18" textLength="26.8" lengthAdjust="spacingAndGlyphs">CD123</text>
<text x="2.5" y="261.4" font-family='"Liberation Sans", sans-serif' font-weight="bold" font-size="15.2" fill="#000">B</text>
<line x1="37" y1="271.3" x2="37" y2="421.3" stroke="#333" stroke-width="1.1"/>
<line x1="37" y1="421.3" x2="253.3" y2="421.3" stroke="#333" stroke-width="1.1"/>
<line x1="34.4" y1="421.3" x2="37" y2="421.3" stroke="#333" stroke-width="1"/>
<text x="25" y="424.9" font-family='"Liberation Sans", sans-serif' font-size="8.6" fill="#3a3a3a" textLength="3.9" lengthAdjust="spacingAndGlyphs">0</text>
<line x1="34.4" y1="371.4" x2="37" y2="371.4" stroke="#333" stroke-width="1"/>
<text x="21.2" y="375.0" font-family='"Liberation Sans", sans-serif' font-size="8.6" fill="#3a3a3a" textLength="9.7" lengthAdjust="spacingAndGlyphs">50</text>
<line x1="34.4" y1="321.4" x2="37" y2="321.4" stroke="#333" stroke-width="1"/>
<text x="17" y="325.0" font-family='"Liberation Sans", sans-serif' font-size="8.6" fill="#3a3a3a" textLength="13.9" lengthAdjust="spacingAndGlyphs">100</text>
<line x1="34.4" y1="271.5" x2="37" y2="271.5" stroke="#333" stroke-width="1"/>
<text x="17.3" y="275.1" font-family='"Liberation Sans", sans-serif' font-size="8.6" fill="#3a3a3a" textLength="13.6" lengthAdjust="spacingAndGlyphs">150</text>
<line x1="58.2" y1="421.3" x2="58.2" y2="424.1" stroke="#333" stroke-width="1"/>
<text x="56" y="435.3" font-family='"Liberation Sans", sans-serif' font-size="8.6" fill="#3a3a3a" textLength="5.5" lengthAdjust="spacingAndGlyphs">0</text>
<line x1="101.2" y1="421.3" x2="101.2" y2="424.1" stroke="#333" stroke-width="1"/>
<text x="98.4" y="435.3" font-family='"Liberation Sans", sans-serif' font-size="8.6" fill="#3a3a3a" textLength="8.1" lengthAdjust="spacingAndGlyphs">11</text>
<line x1="145" y1="421.3" x2="145" y2="424.1" stroke="#333" stroke-width="1"/>
<text x="142.3" y="435.3" font-family='"Liberation Sans", sans-serif' font-size="8.6" fill="#3a3a3a" textLength="9.5" lengthAdjust="spacingAndGlyphs">15</text>
<line x1="188" y1="421.3" x2="188" y2="424.1" stroke="#333" stroke-width="1"/>
<text x="185.6" y="435.3" font-family='"Liberation Sans", sans-serif' font-size="8.6" fill="#3a3a3a" textLength="9.5" lengthAdjust="spacingAndGlyphs">20</text>
<line x1="230.6" y1="421.3" x2="230.6" y2="424.1" stroke="#333" stroke-width="1"/>
<text x="227.5" y="435.3" font-family='"Liberation Sans", sans-serif' font-size="8.6" fill="#3a3a3a" textLength="9.4" lengthAdjust="spacingAndGlyphs">25</text>
<text x="113" y="450.2" font-family='"Liberation Serif", serif' font-size="11.2" fill="#222" stroke="#222" stroke-width="0.25" textLength="68.4" lengthAdjust="spacingAndGlyphs">Days in culture</text>
<text transform="translate(10,370.1) rotate(-90)" font-family='"Liberation Serif", serif' font-size="11.6" fill="#222" stroke="#222" stroke-width="0.25" textLength="62.2" lengthAdjust="spacingAndGlyphs">Fold increase</text>
<polyline points="58.2,420.9 101.2,374.4 145,358.4 188,280.2 230.6,286.6" fill="none" stroke="#999" stroke-width="0.9"/>
<polyline points="58.2,420.9 101.2,417.8 145,417.7 188,411.3 230.6,403.1" fill="none" stroke="#999" stroke-width="0.9"/>
<polyline points="58.2,420.9 101.2,397.8 145,395.8 188,403.3 230.6,375.4" fill="none" stroke="#999" stroke-width="0.9"/>
<polyline points="58.2,420.9 101.2,404.5 145,408.5 188,408.1 230.6,407.4" fill="none" stroke="#999" stroke-width="0.9"/>
<polyline points="58.2,420.9 101.2,409.3 145,408.5 188,412.3 230.6,416.3" fill="none" stroke="#999" stroke-width="0.9"/>
<polyline points="58.2,420.9 101.2,417.8 145,417.5 188,417.0 230.6,417.9" fill="none" stroke="#999" stroke-width="0.9"/>
<polyline points="58.2,420.9 101.2,419.8 145,419.3 188,412.3 230.6,419.3" fill="none" stroke="#999" stroke-width="0.9"/>
<rect x="55.7" y="418.4" width="5.0" height="5.0" fill="#fff" stroke="#333" stroke-width="0.7"/>
<rect x="98.7" y="415.3" width="5.0" height="5.0" fill="#fff" stroke="#333" stroke-width="0.7"/>
<rect x="142.5" y="415.2" width="5.0" height="5.0" fill="#fff" stroke="#333" stroke-width="0.7"/>
<rect x="185.5" y="408.8" width="5.0" height="5.0" fill="#fff" stroke="#333" stroke-width="0.7"/>
<rect x="228.1" y="400.6" width="5.0" height="5.0" fill="#fff" stroke="#333" stroke-width="0.7"/>
<circle cx="58.2" cy="420.9" r="3.2" fill="#fff" stroke="#222" stroke-width="0.7"/>
<circle cx="101.2" cy="419.8" r="3.2" fill="#fff" stroke="#222" stroke-width="0.7"/>
<circle cx="145" cy="419.3" r="3.2" fill="#fff" stroke="#222" stroke-width="0.7"/>
<circle cx="188" cy="412.3" r="3.2" fill="#fff" stroke="#222" stroke-width="0.7"/>
<circle cx="230.6" cy="419.3" r="3.2" fill="#fff" stroke="#222" stroke-width="0.7"/>
<path d="M58.2,417.59999999999997L61.5,423.53999999999996L54.900000000000006,423.53999999999996Z" fill="#000" stroke="#333" stroke-width="0.7"/>
<path d="M101.2,401.2L104.5,407.14L97.9,407.14Z" fill="#000" stroke="#333" stroke-width="0.7"/>
<path d="M145,405.2L148.3,411.14L141.7,411.14Z" fill="#000" stroke="#333" stroke-width="0.7"/>
<path d="M188,404.8L191.3,410.74L184.7,410.74Z" fill="#000" stroke="#333" stroke-width="0.7"/>
<path d="M230.6,404.09999999999997L233.9,410.03999999999996L227.29999999999998,410.03999999999996Z" fill="#000" stroke="#333" stroke-width="0.7"/>
<path d="M58.2,417.59999999999997L61.5,423.53999999999996L54.900000000000006,423.53999999999996Z" fill="#fff" stroke="#333" stroke-width="0.7"/>
<path d="M101.2,406.0L104.5,411.94L97.9,411.94Z" fill="#fff" stroke="#333" stroke-width="0.7"/>
<path d="M145,405.2L148.3,411.14L141.7,411.14Z" fill="#fff" stroke="#333" stroke-width="0.7"/>
<path d="M188,409.0L191.3,414.94L184.7,414.94Z" fill="#fff" stroke="#333" stroke-width="0.7"/>
<path d="M230.6,413.0L233.9,418.94L227.29999999999998,418.94Z" fill="#fff" stroke="#333" stroke-width="0.7"/>
<path d="M58.2,417.5L61.6,420.9L58.2,424.29999999999995L54.800000000000004,420.9Z" fill="#fff" stroke="#111" stroke-width="0.7"/>
<path d="M101.2,394.40000000000003L104.60000000000001,397.8L101.2,401.2L97.8,397.8Z" fill="#fff" stroke="#111" stroke-width="0.7"/>
<path d="M145,392.40000000000003L148.4,395.8L145,399.2L141.6,395.8Z" fill="#fff" stroke="#111" stroke-width="0.7"/>
<path d="M188,399.90000000000003L191.4,403.3L188,406.7L184.6,403.3Z" fill="#fff" stroke="#111" stroke-width="0.7"/>
<path d="M230.6,372.0L234.0,375.4L230.6,378.79999999999995L227.2,375.4Z" fill="#fff" stroke="#111" stroke-width="0.7"/>
<circle cx="58.2" cy="420.9" r="3.4" fill="#000" stroke="#222" stroke-width="0.7"/>
<circle cx="101.2" cy="417.8" r="3.4" fill="#000" stroke="#222" stroke-width="0.7"/>
<circle cx="145" cy="417.5" r="3.4" fill="#000" stroke="#222" stroke-width="0.7"/>
<circle cx="188" cy="417.0" r="3.4" fill="#000" stroke="#222" stroke-width="0.7"/>
<circle cx="230.6" cy="417.9" r="3.4" fill="#000" stroke="#222" stroke-width="0.7"/>
<path d="M58.2,417.5L61.6,420.9L58.2,424.29999999999995L54.800000000000004,420.9Z" fill="#000" stroke="#111" stroke-width="0.7"/>
<path d="M101.2,371.0L104.60000000000001,374.4L101.2,377.79999999999995L97.8,374.4Z" fill="#000" stroke="#111" stroke-width="0.7"/>
<path d="M145,355.0L148.4,358.4L145,361.79999999999995L141.6,358.4Z" fill="#000" stroke="#111" stroke-width="0.7"/>
<path d="M188,276.8L191.4,280.2L188,283.59999999999997L184.6,280.2Z" fill="#000" stroke="#111" stroke-width="0.7"/>
<path d="M230.6,283.20000000000005L234.0,286.6L230.6,290.0L227.2,286.6Z" fill="#000" stroke="#111" stroke-width="0.7"/>
<line x1="51.7" y1="273.1" x2="71.9" y2="273.1" stroke="#999" stroke-width="0.9"/>
<path d="M61.3,269.70000000000005L64.7,273.1L61.3,276.5L57.9,273.1Z" fill="#000" stroke="#111" stroke-width="0.7"/>
<text x="78.7" y="275.9" font-family='"Liberation Serif", serif' font-size="8.2" fill="#222" stroke="#222" stroke-width="0.15">FLT3-L+TPO</text>
<line x1="51.7" y1="283.7" x2="71.9" y2="283.7" stroke="#999" stroke-width="0.9"/>
<rect x="58.8" y="281.2" width="5.0" height="5.0" fill="#fff" stroke="#333" stroke-width="0.7"/>
<text x="78.7" y="286.5" font-family='"Liberation Serif", serif' font-size="8.2" fill="#222" stroke="#222" stroke-width="0.15">FLT3-L</text>
<line x1="51.7" y1="295.2" x2="71.9" y2="295.2" stroke="#999" stroke-width="0.9"/>
<path d="M61.3,291.8L64.7,295.2L61.3,298.59999999999997L57.9,295.2Z" fill="#fff" stroke="#111" stroke-width="0.7"/>
<text x="78.7" y="298.0" font-family='"Liberation Serif", serif' font-size="8.2" fill="#222" stroke="#222" stroke-width="0.15">TPO</text>
<line x1="51.7" y1="306.7" x2="71.9" y2="306.7" stroke="#999" stroke-width="0.9"/>
<path d="M61.3,303.4L64.6,309.34L58.0,309.34Z" fill="#000" stroke="#333" stroke-width="0.7"/>
<text x="78.7" y="309.5" font-family='"Liberation Serif", serif' font-size="8.2" fill="#222" stroke="#222" stroke-width="0.15">FLT3-L+EPO</text>
<line x1="51.7" y1="317.9" x2="71.9" y2="317.9" stroke="#999" stroke-width="0.9"/>
<path d="M61.3,314.59999999999997L64.6,320.53999999999996L58.0,320.53999999999996Z" fill="#fff" stroke="#333" stroke-width="0.7"/>
<text x="78.7" y="320.7" font-family='"Liberation Serif", serif' font-size="8.2" fill="#222" stroke="#222" stroke-width="0.15">EPO</text>
<line x1="51.7" y1="329" x2="71.9" y2="329" stroke="#999" stroke-width="0.9"/>
<circle cx="61.3" cy="329" r="3.4" fill="#000" stroke="#222" stroke-width="0.7"/>
<text x="78.7" y="331.8" font-family='"Liberation Serif", serif' font-size="8.2" fill="#222" stroke="#222" stroke-width="0.15">FLT3-L+TNF-α</text>
<line x1="51.7" y1="340.4" x2="71.9" y2="340.4" stroke="#999" stroke-width="0.9"/>
<circle cx="61.3" cy="340.4" r="3.2" fill="#fff" stroke="#222" stroke-width="0.7"/>
<text x="78.7" y="343.2" font-family='"Liberation Serif", serif' font-size="8.2" fill="#222" stroke="#222" stroke-width="0.15">TNF-α</text>
<text x="260.4" y="260.6" font-family='"Liberation Sans", sans-serif' font-weight="bold" font-size="15.2" fill="#000">C</text>
<line x1="297.4" y1="279.4" x2="297.4" y2="414.2" stroke="#333" stroke-width="1.1"/>
<line x1="297.4" y1="414.2" x2="518.5" y2="414.2" stroke="#333" stroke-width="1.1"/>
<line x1="294.4" y1="414.2" x2="297.4" y2="414.2" stroke="#333" stroke-width="0.9"/>
<text x="285.8" y="417.4" font-family='"Liberation Sans", sans-serif' font-size="8.8" fill="#3a3a3a" textLength="4.7" lengthAdjust="spacingAndGlyphs">0</text>
<line x1="295.4" y1="397.3" x2="297.4" y2="397.3" stroke="#333" stroke-width="0.9"/>
<line x1="294.4" y1="380.5" x2="297.4" y2="380.5" stroke="#333" stroke-width="0.9"/>
<text x="285.8" y="383.7" font-family='"Liberation Sans", sans-serif' font-size="8.8" fill="#3a3a3a" textLength="4.7" lengthAdjust="spacingAndGlyphs">2</text>
<line x1="295.4" y1="363.6" x2="297.4" y2="363.6" stroke="#333" stroke-width="0.9"/>
<line x1="294.4" y1="346.8" x2="297.4" y2="346.8" stroke="#333" stroke-width="0.9"/>
<text x="285.8" y="350.0" font-family='"Liberation Sans", sans-serif' font-size="8.8" fill="#3a3a3a" textLength="4.7" lengthAdjust="spacingAndGlyphs">4</text>
<line x1="295.4" y1="329.9" x2="297.4" y2="329.9" stroke="#333" stroke-width="0.9"/>
<line x1="294.4" y1="313.1" x2="297.4" y2="313.1" stroke="#333" stroke-width="0.9"/>
<text x="285.8" y="316.3" font-family='"Liberation Sans", sans-serif' font-size="8.8" fill="#3a3a3a" textLength="4.7" lengthAdjust="spacingAndGlyphs">6</text>
<line x1="295.4" y1="296.2" x2="297.4" y2="296.2" stroke="#333" stroke-width="0.9"/>
<line x1="294.4" y1="279.4" x2="297.4" y2="279.4" stroke="#333" stroke-width="0.9"/>
<text x="285.8" y="282.6" font-family='"Liberation Sans", sans-serif' font-size="8.8" fill="#3a3a3a" textLength="4.7" lengthAdjust="spacingAndGlyphs">8</text>
<rect x="309.25" y="410.4" width="16.30" height="3.8" fill="#111"/>
<line x1="317.80" y1="408.0" x2="317.80" y2="410.4" stroke="#111" stroke-width="1"/>
<line x1="312.3" y1="408.0" x2="323.3" y2="408.0" stroke="#111" stroke-width="1"/>
<rect x="366.3" y="311.1" width="15.60" height="103.1" fill="#111"/>
<line x1="373.85" y1="307.4" x2="373.85" y2="311.1" stroke="#111" stroke-width="1"/>
<line x1="369.1" y1="307.4" x2="378.6" y2="307.4" stroke="#111" stroke-width="1"/>
<rect x="427.9" y="409.9" width="15.40" height="4.3" fill="#111"/>
<line x1="435.35" y1="406.4" x2="435.35" y2="409.9" stroke="#111" stroke-width="1"/>
<line x1="429.9" y1="406.4" x2="440.8" y2="406.4" stroke="#111" stroke-width="1"/>
<g stroke="#111" stroke-width="1.3" stroke-linecap="round"><line x1="373" y1="282.6" x2="373" y2="285.4"/><line x1="370.3" y1="284.5" x2="373" y2="285.4"/><line x1="375.7" y1="284.5" x2="373" y2="285.4"/><line x1="371.3" y1="287.9" x2="373" y2="285.4"/><line x1="374.7" y1="287.9" x2="373" y2="285.4"/></g>
<text x="304" y="425.4" font-family='"Liberation Serif", serif' font-size="8.8" fill="#222" stroke="#222" stroke-width="0.25" textLength="27.7" lengthAdjust="spacingAndGlyphs">FLT3-L</text>
<text x="336.5" y="425.4" font-family='"Liberation Serif", serif' font-size="8.8" fill="#222" stroke="#222" stroke-width="0.25" textLength="16.5" lengthAdjust="spacingAndGlyphs">TPO</text>
<text x="361.6" y="425.4" font-family='"Liberation Serif", serif' font-size="8.8" fill="#222" stroke="#222" stroke-width="0.25" textLength="28.9" lengthAdjust="spacingAndGlyphs">FLT3-L</text>
<text x="376.1" y="434.2" text-anchor="middle" font-family='"Liberation Serif", serif' font-size="8.8" fill="#222" stroke="#222" stroke-width="0.25">+TPO</text>
<text x="396.8" y="425.4" font-family='"Liberation Serif", serif' font-size="8.8" fill="#222" stroke="#222" stroke-width="0.25" textLength="17.0" lengthAdjust="spacingAndGlyphs">EPO</text>
<text x="422" y="425.4" font-family='"Liberation Serif", serif' font-size="8.8" fill="#222" stroke="#222" stroke-width="0.25" textLength="28.2" lengthAdjust="spacingAndGlyphs">FLT3-L</text>
<text x="436.1" y="434.2" text-anchor="middle" font-family='"Liberation Serif", serif' font-size="8.8" fill="#222" stroke="#222" stroke-width="0.25">+EPO</text>
<text x="457.5" y="425.4" font-family='"Liberation Serif", serif' font-size="8.8" fill="#222" stroke="#222" stroke-width="0.25" textLength="24.3" lengthAdjust="spacingAndGlyphs">TNF-α</text>
<text x="489.2" y="425.4" font-family='"Liberation Serif", serif' font-size="8.8" fill="#222" stroke="#222" stroke-width="0.25" textLength="28.7" lengthAdjust="spacingAndGlyphs">FLT3-L</text>
<text x="503.5" y="434.2" text-anchor="middle" font-family='"Liberation Serif", serif' font-size="8.8" fill="#222" stroke="#222" stroke-width="0.25">+TNF-α</text>
<text x="372.5" y="451" font-family='"Liberation Serif", serif' font-size="11.4" fill="#222" stroke="#222" stroke-width="0.25" textLength="80.2" lengthAdjust="spacingAndGlyphs">Day 20 of culture</text>
<text transform="translate(271.2,390.6) rotate(-90)" font-family='"Liberation Serif", serif' font-size="11" fill="#222" stroke="#222" stroke-width="0.25" textLength="88.5" lengthAdjust="spacingAndGlyphs">No. of IPCs  (x10<tspan dy="-3.5" font-size="7.5">6</tspan><tspan dy="3.5">)</tspan></text>
</svg></body></html>
